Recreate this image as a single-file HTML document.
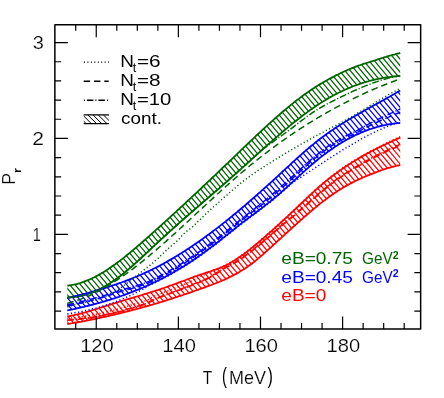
<!DOCTYPE html>
<html><head><meta charset="utf-8"><title>Polyakov loop</title>
<style>html,body{margin:0;padding:0;background:#fff;}svg{display:block;will-change:transform;}</style>
</head><body>
<svg width="444" height="398" viewBox="0 0 444 398">
<rect width="444" height="398" fill="#fff"/>
<clipPath id="cg"><path d="M67.3,285.6 L68.6,285.5 L69.9,285.3 L71.2,285.1 L72.4,284.9 L73.7,284.7 L75.0,284.4 L76.3,284.1 L77.6,283.8 L78.9,283.4 L80.2,283.0 L81.4,282.6 L82.7,282.2 L84.0,281.7 L85.3,281.2 L86.6,280.7 L87.9,280.2 L89.2,279.6 L90.4,279.1 L91.7,278.5 L93.0,277.8 L94.3,277.2 L95.6,276.5 L96.9,275.9 L98.1,275.2 L99.4,274.4 L100.7,273.7 L102.0,272.9 L103.3,272.2 L104.6,271.4 L105.9,270.6 L107.1,269.7 L108.4,268.9 L109.7,268.0 L111.0,267.1 L112.3,266.2 L113.6,265.3 L114.9,264.4 L116.1,263.5 L117.4,262.5 L118.7,261.6 L120.0,260.6 L121.3,259.6 L122.6,258.6 L123.9,257.6 L125.1,256.6 L126.4,255.5 L127.7,254.5 L129.0,253.5 L130.3,252.4 L131.6,251.3 L132.9,250.3 L134.1,249.2 L135.4,248.1 L136.7,247.0 L138.0,245.9 L139.3,244.8 L140.6,243.6 L141.8,242.5 L143.1,241.4 L144.4,240.3 L145.7,239.1 L147.0,238.0 L148.3,236.8 L149.6,235.7 L150.8,234.6 L152.1,233.4 L153.4,232.3 L154.7,231.1 L156.0,229.9 L157.3,228.8 L158.6,227.6 L159.8,226.5 L161.1,225.3 L162.4,224.1 L163.7,223.0 L165.0,221.8 L166.3,220.6 L167.6,219.5 L168.8,218.3 L170.1,217.1 L171.4,215.9 L172.7,214.8 L174.0,213.6 L175.3,212.4 L176.6,211.2 L177.8,210.0 L179.1,208.9 L180.4,207.7 L181.7,206.5 L183.0,205.3 L184.3,204.1 L185.6,202.9 L186.8,201.7 L188.1,200.5 L189.4,199.3 L190.7,198.1 L192.0,196.9 L193.3,195.7 L194.5,194.5 L195.8,193.3 L197.1,192.1 L198.4,190.9 L199.7,189.7 L201.0,188.5 L202.3,187.2 L203.5,186.0 L204.8,184.8 L206.1,183.6 L207.4,182.4 L208.7,181.2 L210.0,180.0 L211.3,178.7 L212.5,177.5 L213.8,176.3 L215.1,175.1 L216.4,173.8 L217.7,172.6 L219.0,171.4 L220.3,170.2 L221.5,168.9 L222.8,167.7 L224.1,166.5 L225.4,165.2 L226.7,164.0 L228.0,162.8 L229.3,161.5 L230.5,160.3 L231.8,159.1 L233.1,157.8 L234.4,156.6 L235.7,155.4 L237.0,154.1 L238.2,152.9 L239.5,151.7 L240.8,150.4 L242.1,149.2 L243.4,147.9 L244.7,146.7 L246.0,145.5 L247.2,144.3 L248.5,143.0 L249.8,141.8 L251.1,140.6 L252.4,139.3 L253.7,138.1 L255.0,136.9 L256.2,135.7 L257.5,134.5 L258.8,133.3 L260.1,132.1 L261.4,130.9 L262.7,129.7 L264.0,128.5 L265.2,127.3 L266.5,126.1 L267.8,124.9 L269.1,123.8 L270.4,122.6 L271.7,121.5 L273.0,120.3 L274.2,119.2 L275.5,118.0 L276.8,116.9 L278.1,115.8 L279.4,114.6 L280.7,113.5 L281.9,112.4 L283.2,111.3 L284.5,110.2 L285.8,109.2 L287.1,108.1 L288.4,107.0 L289.7,106.0 L290.9,104.9 L292.2,103.9 L293.5,102.9 L294.8,101.8 L296.1,100.8 L297.4,99.8 L298.7,98.9 L299.9,97.9 L301.2,96.9 L302.5,96.0 L303.8,95.0 L305.1,94.1 L306.4,93.2 L307.7,92.3 L308.9,91.4 L310.2,90.5 L311.5,89.6 L312.8,88.8 L314.1,88.0 L315.4,87.1 L316.7,86.3 L317.9,85.5 L319.2,84.7 L320.5,83.9 L321.8,83.2 L323.1,82.4 L324.4,81.7 L325.7,80.9 L326.9,80.2 L328.2,79.5 L329.5,78.8 L330.8,78.1 L332.1,77.4 L333.4,76.7 L334.6,76.1 L335.9,75.4 L337.2,74.8 L338.5,74.2 L339.8,73.5 L341.1,72.9 L342.4,72.3 L343.6,71.7 L344.9,71.2 L346.2,70.6 L347.5,70.0 L348.8,69.5 L350.1,68.9 L351.4,68.4 L352.6,67.9 L353.9,67.4 L355.2,66.9 L356.5,66.4 L357.8,65.9 L359.1,65.4 L360.4,65.0 L361.6,64.5 L362.9,64.1 L364.2,63.7 L365.5,63.3 L366.8,62.9 L368.1,62.5 L369.4,62.1 L370.6,61.7 L371.9,61.3 L373.2,60.9 L374.5,60.5 L375.8,60.1 L377.1,59.6 L378.3,59.2 L379.6,58.8 L380.9,58.4 L382.2,58.0 L383.5,57.6 L384.8,57.2 L386.1,56.8 L387.3,56.4 L388.6,56.0 L389.9,55.6 L391.2,55.3 L392.5,54.9 L393.8,54.6 L395.1,54.3 L396.3,53.9 L397.6,53.6 L398.9,53.3 L400.2,53.0 L400.2,76.0 L398.9,76.1 L397.6,76.2 L396.3,76.3 L395.1,76.4 L393.8,76.5 L392.5,76.7 L391.2,76.8 L389.9,77.0 L388.6,77.1 L387.3,77.3 L386.1,77.5 L384.8,77.7 L383.5,77.9 L382.2,78.1 L380.9,78.4 L379.6,78.6 L378.3,78.9 L377.1,79.1 L375.8,79.4 L374.5,79.7 L373.2,80.0 L371.9,80.3 L370.6,80.7 L369.4,81.0 L368.1,81.4 L366.8,81.7 L365.5,82.1 L364.2,82.5 L362.9,82.9 L361.6,83.3 L360.4,83.7 L359.1,84.2 L357.8,84.6 L356.5,85.1 L355.2,85.5 L353.9,86.0 L352.6,86.5 L351.4,87.0 L350.1,87.6 L348.8,88.1 L347.5,88.6 L346.2,89.2 L344.9,89.8 L343.6,90.4 L342.4,91.0 L341.1,91.6 L339.8,92.2 L338.5,92.8 L337.2,93.5 L335.9,94.1 L334.6,94.8 L333.4,95.5 L332.1,96.2 L330.8,96.9 L329.5,97.6 L328.2,98.4 L326.9,99.1 L325.7,99.9 L324.4,100.7 L323.1,101.5 L321.8,102.3 L320.5,103.1 L319.2,103.9 L317.9,104.8 L316.7,105.6 L315.4,106.5 L314.1,107.4 L312.8,108.3 L311.5,109.2 L310.2,110.1 L308.9,111.0 L307.7,111.9 L306.4,112.9 L305.1,113.8 L303.8,114.8 L302.5,115.8 L301.2,116.7 L299.9,117.7 L298.7,118.7 L297.4,119.7 L296.1,120.8 L294.8,121.8 L293.5,122.8 L292.2,123.8 L290.9,124.9 L289.7,125.9 L288.4,127.0 L287.1,128.1 L285.8,129.1 L284.5,130.2 L283.2,131.3 L281.9,132.4 L280.7,133.5 L279.4,134.6 L278.1,135.7 L276.8,136.8 L275.5,138.0 L274.2,139.1 L273.0,140.2 L271.7,141.3 L270.4,142.5 L269.1,143.6 L267.8,144.7 L266.5,145.9 L265.2,147.0 L264.0,148.2 L262.7,149.3 L261.4,150.5 L260.1,151.7 L258.8,152.8 L257.5,154.0 L256.2,155.1 L255.0,156.3 L253.7,157.5 L252.4,158.6 L251.1,159.8 L249.8,161.0 L248.5,162.1 L247.2,163.3 L246.0,164.5 L244.7,165.6 L243.4,166.8 L242.1,167.9 L240.8,169.1 L239.5,170.3 L238.2,171.4 L237.0,172.6 L235.7,173.7 L234.4,174.9 L233.1,176.0 L231.8,177.2 L230.5,178.3 L229.3,179.4 L228.0,180.6 L226.7,181.7 L225.4,182.8 L224.1,184.0 L222.8,185.1 L221.5,186.2 L220.3,187.3 L219.0,188.5 L217.7,189.6 L216.4,190.7 L215.1,191.8 L213.8,192.9 L212.5,194.0 L211.3,195.1 L210.0,196.3 L208.7,197.4 L207.4,198.5 L206.1,199.6 L204.8,200.7 L203.5,201.8 L202.3,202.9 L201.0,204.0 L199.7,205.1 L198.4,206.3 L197.1,207.4 L195.8,208.5 L194.5,209.6 L193.3,210.7 L192.0,211.8 L190.7,212.9 L189.4,214.1 L188.1,215.2 L186.8,216.3 L185.6,217.4 L184.3,218.5 L183.0,219.7 L181.7,220.8 L180.4,221.9 L179.1,223.1 L177.8,224.2 L176.6,225.4 L175.3,226.5 L174.0,227.6 L172.7,228.8 L171.4,230.0 L170.1,231.1 L168.8,232.3 L167.6,233.4 L166.3,234.6 L165.0,235.8 L163.7,237.0 L162.4,238.1 L161.1,239.3 L159.8,240.5 L158.6,241.7 L157.3,242.9 L156.0,244.1 L154.7,245.3 L153.4,246.5 L152.1,247.7 L150.8,249.0 L149.6,250.2 L148.3,251.4 L147.0,252.6 L145.7,253.8 L144.4,255.0 L143.1,256.2 L141.8,257.4 L140.6,258.6 L139.3,259.8 L138.0,260.9 L136.7,262.1 L135.4,263.2 L134.1,264.4 L132.9,265.5 L131.6,266.7 L130.3,267.8 L129.0,268.9 L127.7,270.0 L126.4,271.0 L125.1,272.1 L123.9,273.1 L122.6,274.2 L121.3,275.2 L120.0,276.2 L118.7,277.1 L117.4,278.1 L116.1,279.0 L114.9,279.9 L113.6,280.8 L112.3,281.7 L111.0,282.6 L109.7,283.4 L108.4,284.2 L107.1,285.0 L105.9,285.7 L104.6,286.5 L103.3,287.2 L102.0,287.9 L100.7,288.6 L99.4,289.2 L98.1,289.8 L96.9,290.4 L95.6,291.0 L94.3,291.6 L93.0,292.1 L91.7,292.6 L90.4,293.1 L89.2,293.5 L87.9,294.0 L86.6,294.4 L85.3,294.8 L84.0,295.1 L82.7,295.4 L81.4,295.8 L80.2,296.0 L78.9,296.3 L77.6,296.5 L76.3,296.7 L75.0,296.9 L73.7,297.1 L72.4,297.2 L71.2,297.3 L69.9,297.4 L68.6,297.4 L67.3,297.4Z"/></clipPath>
<path clip-path="url(#cg)" d="M-426.80,0 L-95.13,398 M-421.40,0 L-89.73,398 M-416.00,0 L-84.33,398 M-410.60,0 L-78.93,398 M-405.20,0 L-73.53,398 M-399.80,0 L-68.13,398 M-394.40,0 L-62.73,398 M-389.00,0 L-57.33,398 M-383.60,0 L-51.93,398 M-378.20,0 L-46.53,398 M-372.80,0 L-41.13,398 M-367.40,0 L-35.73,398 M-362.00,0 L-30.33,398 M-356.60,0 L-24.93,398 M-351.20,0 L-19.53,398 M-345.80,0 L-14.13,398 M-340.40,0 L-8.73,398 M-335.00,0 L-3.33,398 M-329.60,0 L2.07,398 M-324.20,0 L7.47,398 M-318.80,0 L12.87,398 M-313.40,0 L18.27,398 M-308.00,0 L23.67,398 M-302.60,0 L29.07,398 M-297.20,0 L34.47,398 M-291.80,0 L39.87,398 M-286.40,0 L45.27,398 M-281.00,0 L50.67,398 M-275.60,0 L56.07,398 M-270.20,0 L61.47,398 M-264.80,0 L66.87,398 M-259.40,0 L72.27,398 M-254.00,0 L77.67,398 M-248.60,0 L83.07,398 M-243.20,0 L88.47,398 M-237.80,0 L93.87,398 M-232.40,0 L99.27,398 M-227.00,0 L104.67,398 M-221.60,0 L110.07,398 M-216.20,0 L115.47,398 M-210.80,0 L120.87,398 M-205.40,0 L126.27,398 M-200.00,0 L131.67,398 M-194.60,0 L137.07,398 M-189.20,0 L142.47,398 M-183.80,0 L147.87,398 M-178.40,0 L153.27,398 M-173.00,0 L158.67,398 M-167.60,0 L164.07,398 M-162.20,0 L169.47,398 M-156.80,0 L174.87,398 M-151.40,0 L180.27,398 M-146.00,0 L185.67,398 M-140.60,0 L191.07,398 M-135.20,0 L196.47,398 M-129.80,0 L201.87,398 M-124.40,0 L207.27,398 M-119.00,0 L212.67,398 M-113.60,0 L218.07,398 M-108.20,0 L223.47,398 M-102.80,0 L228.87,398 M-97.40,0 L234.27,398 M-92.00,0 L239.67,398 M-86.60,0 L245.07,398 M-81.20,0 L250.47,398 M-75.80,0 L255.87,398 M-70.40,0 L261.27,398 M-65.00,0 L266.67,398 M-59.60,0 L272.07,398 M-54.20,0 L277.47,398 M-48.80,0 L282.87,398 M-43.40,0 L288.27,398 M-38.00,0 L293.67,398 M-32.60,0 L299.07,398 M-27.20,0 L304.47,398 M-21.80,0 L309.87,398 M-16.40,0 L315.27,398 M-11.00,0 L320.67,398 M-5.60,0 L326.07,398 M-0.20,0 L331.47,398 M5.20,0 L336.87,398 M10.60,0 L342.27,398 M16.00,0 L347.67,398 M21.40,0 L353.07,398 M26.80,0 L358.47,398 M32.20,0 L363.87,398 M37.60,0 L369.27,398 M43.00,0 L374.67,398 M48.40,0 L380.07,398 M53.80,0 L385.47,398 M59.20,0 L390.87,398 M64.60,0 L396.27,398 M70.00,0 L401.67,398 M75.40,0 L407.07,398 M80.80,0 L412.47,398 M86.20,0 L417.87,398 M91.60,0 L423.27,398 M97.00,0 L428.67,398 M102.40,0 L434.07,398 M107.80,0 L439.47,398 M113.20,0 L444.87,398 M118.60,0 L450.27,398 M124.00,0 L455.67,398 M129.40,0 L461.07,398 M134.80,0 L466.47,398 M140.20,0 L471.87,398 M145.60,0 L477.27,398 M151.00,0 L482.67,398 M156.40,0 L488.07,398 M161.80,0 L493.47,398 M167.20,0 L498.87,398 M172.60,0 L504.27,398 M178.00,0 L509.67,398 M183.40,0 L515.07,398 M188.80,0 L520.47,398 M194.20,0 L525.87,398 M199.60,0 L531.27,398 M205.00,0 L536.67,398 M210.40,0 L542.07,398 M215.80,0 L547.47,398 M221.20,0 L552.87,398 M226.60,0 L558.27,398 M232.00,0 L563.67,398 M237.40,0 L569.07,398 M242.80,0 L574.47,398 M248.20,0 L579.87,398 M253.60,0 L585.27,398 M259.00,0 L590.67,398 M264.40,0 L596.07,398 M269.80,0 L601.47,398 M275.20,0 L606.87,398 M280.60,0 L612.27,398 M286.00,0 L617.67,398 M291.40,0 L623.07,398 M296.80,0 L628.47,398 M302.20,0 L633.87,398 M307.60,0 L639.27,398 M313.00,0 L644.67,398 M318.40,0 L650.07,398 M323.80,0 L655.47,398 M329.20,0 L660.87,398 M334.60,0 L666.27,398 M340.00,0 L671.67,398 M345.40,0 L677.07,398 M350.80,0 L682.47,398 M356.20,0 L687.87,398 M361.60,0 L693.27,398 M367.00,0 L698.67,398 M372.40,0 L704.07,398 M377.80,0 L709.47,398 M383.20,0 L714.87,398 M388.60,0 L720.27,398 M394.00,0 L725.67,398 M399.40,0 L731.07,398 M404.80,0 L736.47,398 M410.20,0 L741.87,398 M415.60,0 L747.27,398 M421.00,0 L752.67,398 M426.40,0 L758.07,398 M431.80,0 L763.47,398 M437.20,0 L768.87,398 M442.60,0 L774.27,398 M448.00,0 L779.67,398" stroke="#006400" stroke-width="1.25" fill="none"/>
<path d="M67.3,285.6 L68.6,285.5 L69.9,285.3 L71.2,285.1 L72.4,284.9 L73.7,284.7 L75.0,284.4 L76.3,284.1 L77.6,283.8 L78.9,283.4 L80.2,283.0 L81.4,282.6 L82.7,282.2 L84.0,281.7 L85.3,281.2 L86.6,280.7 L87.9,280.2 L89.2,279.6 L90.4,279.1 L91.7,278.5 L93.0,277.8 L94.3,277.2 L95.6,276.5 L96.9,275.9 L98.1,275.2 L99.4,274.4 L100.7,273.7 L102.0,272.9 L103.3,272.2 L104.6,271.4 L105.9,270.6 L107.1,269.7 L108.4,268.9 L109.7,268.0 L111.0,267.1 L112.3,266.2 L113.6,265.3 L114.9,264.4 L116.1,263.5 L117.4,262.5 L118.7,261.6 L120.0,260.6 L121.3,259.6 L122.6,258.6 L123.9,257.6 L125.1,256.6 L126.4,255.5 L127.7,254.5 L129.0,253.5 L130.3,252.4 L131.6,251.3 L132.9,250.3 L134.1,249.2 L135.4,248.1 L136.7,247.0 L138.0,245.9 L139.3,244.8 L140.6,243.6 L141.8,242.5 L143.1,241.4 L144.4,240.3 L145.7,239.1 L147.0,238.0 L148.3,236.8 L149.6,235.7 L150.8,234.6 L152.1,233.4 L153.4,232.3 L154.7,231.1 L156.0,229.9 L157.3,228.8 L158.6,227.6 L159.8,226.5 L161.1,225.3 L162.4,224.1 L163.7,223.0 L165.0,221.8 L166.3,220.6 L167.6,219.5 L168.8,218.3 L170.1,217.1 L171.4,215.9 L172.7,214.8 L174.0,213.6 L175.3,212.4 L176.6,211.2 L177.8,210.0 L179.1,208.9 L180.4,207.7 L181.7,206.5 L183.0,205.3 L184.3,204.1 L185.6,202.9 L186.8,201.7 L188.1,200.5 L189.4,199.3 L190.7,198.1 L192.0,196.9 L193.3,195.7 L194.5,194.5 L195.8,193.3 L197.1,192.1 L198.4,190.9 L199.7,189.7 L201.0,188.5 L202.3,187.2 L203.5,186.0 L204.8,184.8 L206.1,183.6 L207.4,182.4 L208.7,181.2 L210.0,180.0 L211.3,178.7 L212.5,177.5 L213.8,176.3 L215.1,175.1 L216.4,173.8 L217.7,172.6 L219.0,171.4 L220.3,170.2 L221.5,168.9 L222.8,167.7 L224.1,166.5 L225.4,165.2 L226.7,164.0 L228.0,162.8 L229.3,161.5 L230.5,160.3 L231.8,159.1 L233.1,157.8 L234.4,156.6 L235.7,155.4 L237.0,154.1 L238.2,152.9 L239.5,151.7 L240.8,150.4 L242.1,149.2 L243.4,147.9 L244.7,146.7 L246.0,145.5 L247.2,144.3 L248.5,143.0 L249.8,141.8 L251.1,140.6 L252.4,139.3 L253.7,138.1 L255.0,136.9 L256.2,135.7 L257.5,134.5 L258.8,133.3 L260.1,132.1 L261.4,130.9 L262.7,129.7 L264.0,128.5 L265.2,127.3 L266.5,126.1 L267.8,124.9 L269.1,123.8 L270.4,122.6 L271.7,121.5 L273.0,120.3 L274.2,119.2 L275.5,118.0 L276.8,116.9 L278.1,115.8 L279.4,114.6 L280.7,113.5 L281.9,112.4 L283.2,111.3 L284.5,110.2 L285.8,109.2 L287.1,108.1 L288.4,107.0 L289.7,106.0 L290.9,104.9 L292.2,103.9 L293.5,102.9 L294.8,101.8 L296.1,100.8 L297.4,99.8 L298.7,98.9 L299.9,97.9 L301.2,96.9 L302.5,96.0 L303.8,95.0 L305.1,94.1 L306.4,93.2 L307.7,92.3 L308.9,91.4 L310.2,90.5 L311.5,89.6 L312.8,88.8 L314.1,88.0 L315.4,87.1 L316.7,86.3 L317.9,85.5 L319.2,84.7 L320.5,83.9 L321.8,83.2 L323.1,82.4 L324.4,81.7 L325.7,80.9 L326.9,80.2 L328.2,79.5 L329.5,78.8 L330.8,78.1 L332.1,77.4 L333.4,76.7 L334.6,76.1 L335.9,75.4 L337.2,74.8 L338.5,74.2 L339.8,73.5 L341.1,72.9 L342.4,72.3 L343.6,71.7 L344.9,71.2 L346.2,70.6 L347.5,70.0 L348.8,69.5 L350.1,68.9 L351.4,68.4 L352.6,67.9 L353.9,67.4 L355.2,66.9 L356.5,66.4 L357.8,65.9 L359.1,65.4 L360.4,65.0 L361.6,64.5 L362.9,64.1 L364.2,63.7 L365.5,63.3 L366.8,62.9 L368.1,62.5 L369.4,62.1 L370.6,61.7 L371.9,61.3 L373.2,60.9 L374.5,60.5 L375.8,60.1 L377.1,59.6 L378.3,59.2 L379.6,58.8 L380.9,58.4 L382.2,58.0 L383.5,57.6 L384.8,57.2 L386.1,56.8 L387.3,56.4 L388.6,56.0 L389.9,55.6 L391.2,55.3 L392.5,54.9 L393.8,54.6 L395.1,54.3 L396.3,53.9 L397.6,53.6 L398.9,53.3 L400.2,53.0" fill="none" stroke="#006400" stroke-width="1.8"/>
<path d="M67.3,297.4 L68.6,297.4 L69.9,297.4 L71.2,297.3 L72.4,297.2 L73.7,297.1 L75.0,296.9 L76.3,296.7 L77.6,296.5 L78.9,296.3 L80.2,296.0 L81.4,295.8 L82.7,295.4 L84.0,295.1 L85.3,294.8 L86.6,294.4 L87.9,294.0 L89.2,293.5 L90.4,293.1 L91.7,292.6 L93.0,292.1 L94.3,291.6 L95.6,291.0 L96.9,290.4 L98.1,289.8 L99.4,289.2 L100.7,288.6 L102.0,287.9 L103.3,287.2 L104.6,286.5 L105.9,285.7 L107.1,285.0 L108.4,284.2 L109.7,283.4 L111.0,282.6 L112.3,281.7 L113.6,280.8 L114.9,279.9 L116.1,279.0 L117.4,278.1 L118.7,277.1 L120.0,276.2 L121.3,275.2 L122.6,274.2 L123.9,273.1 L125.1,272.1 L126.4,271.0 L127.7,270.0 L129.0,268.9 L130.3,267.8 L131.6,266.7 L132.9,265.5 L134.1,264.4 L135.4,263.2 L136.7,262.1 L138.0,260.9 L139.3,259.8 L140.6,258.6 L141.8,257.4 L143.1,256.2 L144.4,255.0 L145.7,253.8 L147.0,252.6 L148.3,251.4 L149.6,250.2 L150.8,249.0 L152.1,247.7 L153.4,246.5 L154.7,245.3 L156.0,244.1 L157.3,242.9 L158.6,241.7 L159.8,240.5 L161.1,239.3 L162.4,238.1 L163.7,237.0 L165.0,235.8 L166.3,234.6 L167.6,233.4 L168.8,232.3 L170.1,231.1 L171.4,230.0 L172.7,228.8 L174.0,227.6 L175.3,226.5 L176.6,225.4 L177.8,224.2 L179.1,223.1 L180.4,221.9 L181.7,220.8 L183.0,219.7 L184.3,218.5 L185.6,217.4 L186.8,216.3 L188.1,215.2 L189.4,214.1 L190.7,212.9 L192.0,211.8 L193.3,210.7 L194.5,209.6 L195.8,208.5 L197.1,207.4 L198.4,206.3 L199.7,205.1 L201.0,204.0 L202.3,202.9 L203.5,201.8 L204.8,200.7 L206.1,199.6 L207.4,198.5 L208.7,197.4 L210.0,196.3 L211.3,195.1 L212.5,194.0 L213.8,192.9 L215.1,191.8 L216.4,190.7 L217.7,189.6 L219.0,188.5 L220.3,187.3 L221.5,186.2 L222.8,185.1 L224.1,184.0 L225.4,182.8 L226.7,181.7 L228.0,180.6 L229.3,179.4 L230.5,178.3 L231.8,177.2 L233.1,176.0 L234.4,174.9 L235.7,173.7 L237.0,172.6 L238.2,171.4 L239.5,170.3 L240.8,169.1 L242.1,167.9 L243.4,166.8 L244.7,165.6 L246.0,164.5 L247.2,163.3 L248.5,162.1 L249.8,161.0 L251.1,159.8 L252.4,158.6 L253.7,157.5 L255.0,156.3 L256.2,155.1 L257.5,154.0 L258.8,152.8 L260.1,151.7 L261.4,150.5 L262.7,149.3 L264.0,148.2 L265.2,147.0 L266.5,145.9 L267.8,144.7 L269.1,143.6 L270.4,142.5 L271.7,141.3 L273.0,140.2 L274.2,139.1 L275.5,138.0 L276.8,136.8 L278.1,135.7 L279.4,134.6 L280.7,133.5 L281.9,132.4 L283.2,131.3 L284.5,130.2 L285.8,129.1 L287.1,128.1 L288.4,127.0 L289.7,125.9 L290.9,124.9 L292.2,123.8 L293.5,122.8 L294.8,121.8 L296.1,120.8 L297.4,119.7 L298.7,118.7 L299.9,117.7 L301.2,116.7 L302.5,115.8 L303.8,114.8 L305.1,113.8 L306.4,112.9 L307.7,111.9 L308.9,111.0 L310.2,110.1 L311.5,109.2 L312.8,108.3 L314.1,107.4 L315.4,106.5 L316.7,105.6 L317.9,104.8 L319.2,103.9 L320.5,103.1 L321.8,102.3 L323.1,101.5 L324.4,100.7 L325.7,99.9 L326.9,99.1 L328.2,98.4 L329.5,97.6 L330.8,96.9 L332.1,96.2 L333.4,95.5 L334.6,94.8 L335.9,94.1 L337.2,93.5 L338.5,92.8 L339.8,92.2 L341.1,91.6 L342.4,91.0 L343.6,90.4 L344.9,89.8 L346.2,89.2 L347.5,88.6 L348.8,88.1 L350.1,87.6 L351.4,87.0 L352.6,86.5 L353.9,86.0 L355.2,85.5 L356.5,85.1 L357.8,84.6 L359.1,84.2 L360.4,83.7 L361.6,83.3 L362.9,82.9 L364.2,82.5 L365.5,82.1 L366.8,81.7 L368.1,81.4 L369.4,81.0 L370.6,80.7 L371.9,80.3 L373.2,80.0 L374.5,79.7 L375.8,79.4 L377.1,79.1 L378.3,78.9 L379.6,78.6 L380.9,78.4 L382.2,78.1 L383.5,77.9 L384.8,77.7 L386.1,77.5 L387.3,77.3 L388.6,77.1 L389.9,77.0 L391.2,76.8 L392.5,76.7 L393.8,76.5 L395.1,76.4 L396.3,76.3 L397.6,76.2 L398.9,76.1 L400.2,76.0" fill="none" stroke="#006400" stroke-width="1.8"/>
<clipPath id="cb"><path d="M67.3,298.1 L68.6,297.8 L69.9,297.4 L71.2,297.1 L72.4,296.8 L73.7,296.5 L75.0,296.2 L76.3,295.9 L77.6,295.6 L78.9,295.2 L80.2,294.9 L81.4,294.6 L82.7,294.2 L84.0,293.9 L85.3,293.6 L86.6,293.2 L87.9,292.9 L89.2,292.5 L90.4,292.2 L91.7,291.8 L93.0,291.5 L94.3,291.1 L95.6,290.7 L96.9,290.4 L98.1,290.0 L99.4,289.6 L100.7,289.2 L102.0,288.9 L103.3,288.5 L104.6,288.1 L105.9,287.7 L107.1,287.3 L108.4,286.9 L109.7,286.4 L111.0,286.0 L112.3,285.6 L113.6,285.2 L114.9,284.7 L116.1,284.3 L117.4,283.9 L118.7,283.4 L120.0,282.9 L121.3,282.5 L122.6,282.0 L123.9,281.5 L125.1,281.1 L126.4,280.6 L127.7,280.1 L129.0,279.6 L130.3,279.1 L131.6,278.6 L132.9,278.1 L134.1,277.5 L135.4,277.0 L136.7,276.5 L138.0,275.9 L139.3,275.4 L140.6,274.8 L141.8,274.3 L143.1,273.7 L144.4,273.1 L145.7,272.5 L147.0,271.9 L148.3,271.3 L149.6,270.7 L150.8,270.1 L152.1,269.5 L153.4,268.8 L154.7,268.2 L156.0,267.5 L157.3,266.9 L158.6,266.2 L159.8,265.5 L161.1,264.9 L162.4,264.2 L163.7,263.5 L165.0,262.8 L166.3,262.1 L167.6,261.3 L168.8,260.6 L170.1,259.9 L171.4,259.1 L172.7,258.4 L174.0,257.6 L175.3,256.8 L176.6,256.1 L177.8,255.3 L179.1,254.5 L180.4,253.7 L181.7,252.9 L183.0,252.1 L184.3,251.3 L185.6,250.4 L186.8,249.6 L188.1,248.8 L189.4,247.9 L190.7,247.1 L192.0,246.2 L193.3,245.3 L194.5,244.5 L195.8,243.6 L197.1,242.7 L198.4,241.8 L199.7,240.9 L201.0,240.0 L202.3,239.1 L203.5,238.1 L204.8,237.2 L206.1,236.3 L207.4,235.3 L208.7,234.4 L210.0,233.4 L211.3,232.5 L212.5,231.5 L213.8,230.6 L215.1,229.6 L216.4,228.6 L217.7,227.6 L219.0,226.6 L220.3,225.6 L221.5,224.6 L222.8,223.6 L224.1,222.6 L225.4,221.6 L226.7,220.5 L228.0,219.5 L229.3,218.5 L230.5,217.4 L231.8,216.4 L233.1,215.3 L234.4,214.3 L235.7,213.2 L237.0,212.1 L238.2,211.0 L239.5,210.0 L240.8,208.9 L242.1,207.8 L243.4,206.7 L244.7,205.6 L246.0,204.5 L247.2,203.4 L248.5,202.3 L249.8,201.2 L251.1,200.0 L252.4,198.9 L253.7,197.8 L255.0,196.7 L256.2,195.5 L257.5,194.4 L258.8,193.2 L260.1,192.1 L261.4,190.9 L262.7,189.8 L264.0,188.6 L265.2,187.5 L266.5,186.3 L267.8,185.2 L269.1,184.0 L270.4,182.8 L271.7,181.7 L273.0,180.5 L274.2,179.3 L275.5,178.1 L276.8,177.0 L278.1,175.8 L279.4,174.6 L280.7,173.4 L281.9,172.2 L283.2,171.0 L284.5,169.8 L285.8,168.7 L287.1,167.5 L288.4,166.3 L289.7,165.1 L290.9,163.9 L292.2,162.7 L293.5,161.5 L294.8,160.4 L296.1,159.2 L297.4,158.0 L298.7,156.9 L299.9,155.7 L301.2,154.6 L302.5,153.4 L303.8,152.3 L305.1,151.2 L306.4,150.0 L307.7,148.9 L308.9,147.8 L310.2,146.8 L311.5,145.7 L312.8,144.6 L314.1,143.6 L315.4,142.5 L316.7,141.5 L317.9,140.5 L319.2,139.5 L320.5,138.5 L321.8,137.6 L323.1,136.6 L324.4,135.7 L325.7,134.7 L326.9,133.8 L328.2,132.9 L329.5,132.0 L330.8,131.1 L332.1,130.2 L333.4,129.4 L334.6,128.5 L335.9,127.6 L337.2,126.8 L338.5,126.0 L339.8,125.1 L341.1,124.3 L342.4,123.5 L343.6,122.7 L344.9,121.9 L346.2,121.1 L347.5,120.4 L348.8,119.6 L350.1,118.8 L351.4,118.1 L352.6,117.3 L353.9,116.6 L355.2,115.8 L356.5,115.1 L357.8,114.3 L359.1,113.6 L360.4,112.9 L361.6,112.2 L362.9,111.4 L364.2,110.7 L365.5,110.0 L366.8,109.3 L368.1,108.6 L369.4,107.9 L370.6,107.1 L371.9,106.4 L373.2,105.7 L374.5,105.0 L375.8,104.3 L377.1,103.6 L378.3,102.9 L379.6,102.2 L380.9,101.5 L382.2,100.8 L383.5,100.1 L384.8,99.4 L386.1,98.6 L387.3,97.9 L388.6,97.2 L389.9,96.5 L391.2,95.7 L392.5,95.0 L393.8,94.3 L395.1,93.5 L396.3,92.8 L397.6,92.0 L398.9,91.3 L400.2,90.5 L400.2,123.0 L398.9,123.1 L397.6,123.2 L396.3,123.3 L395.1,123.4 L393.8,123.6 L392.5,123.8 L391.2,124.0 L389.9,124.2 L388.6,124.4 L387.3,124.6 L386.1,124.9 L384.8,125.1 L383.5,125.4 L382.2,125.7 L380.9,126.0 L379.6,126.3 L378.3,126.7 L377.1,127.0 L375.8,127.4 L374.5,127.8 L373.2,128.2 L371.9,128.6 L370.6,129.0 L369.4,129.5 L368.1,129.9 L366.8,130.4 L365.5,130.9 L364.2,131.4 L362.9,131.9 L361.6,132.4 L360.4,133.0 L359.1,133.6 L357.8,134.1 L356.5,134.7 L355.2,135.3 L353.9,136.0 L352.6,136.6 L351.4,137.3 L350.1,137.9 L348.8,138.6 L347.5,139.3 L346.2,140.0 L344.9,140.8 L343.6,141.5 L342.4,142.3 L341.1,143.0 L339.8,143.8 L338.5,144.6 L337.2,145.5 L335.9,146.3 L334.6,147.1 L333.4,148.0 L332.1,148.9 L330.8,149.8 L329.5,150.7 L328.2,151.6 L326.9,152.5 L325.7,153.5 L324.4,154.4 L323.1,155.4 L321.8,156.4 L320.5,157.4 L319.2,158.4 L317.9,159.5 L316.7,160.5 L315.4,161.6 L314.1,162.7 L312.8,163.8 L311.5,164.9 L310.2,166.0 L308.9,167.1 L307.7,168.3 L306.4,169.4 L305.1,170.6 L303.8,171.7 L302.5,172.9 L301.2,174.1 L299.9,175.2 L298.7,176.4 L297.4,177.6 L296.1,178.8 L294.8,180.0 L293.5,181.1 L292.2,182.3 L290.9,183.5 L289.7,184.7 L288.4,185.9 L287.1,187.0 L285.8,188.2 L284.5,189.3 L283.2,190.5 L281.9,191.6 L280.7,192.7 L279.4,193.8 L278.1,195.0 L276.8,196.0 L275.5,197.1 L274.2,198.2 L273.0,199.3 L271.7,200.3 L270.4,201.4 L269.1,202.4 L267.8,203.4 L266.5,204.4 L265.2,205.4 L264.0,206.4 L262.7,207.4 L261.4,208.4 L260.1,209.3 L258.8,210.3 L257.5,211.3 L256.2,212.2 L255.0,213.2 L253.7,214.2 L252.4,215.1 L251.1,216.1 L249.8,217.0 L248.5,218.0 L247.2,219.0 L246.0,220.0 L244.7,220.9 L243.4,221.9 L242.1,222.9 L240.8,223.9 L239.5,224.9 L238.2,225.9 L237.0,226.9 L235.7,227.9 L234.4,229.0 L233.1,230.0 L231.8,231.0 L230.5,232.0 L229.3,233.0 L228.0,234.1 L226.7,235.1 L225.4,236.1 L224.1,237.1 L222.8,238.1 L221.5,239.2 L220.3,240.2 L219.0,241.2 L217.7,242.2 L216.4,243.2 L215.1,244.2 L213.8,245.2 L212.5,246.2 L211.3,247.1 L210.0,248.1 L208.7,249.1 L207.4,250.0 L206.1,251.0 L204.8,251.9 L203.5,252.9 L202.3,253.8 L201.0,254.7 L199.7,255.6 L198.4,256.5 L197.1,257.4 L195.8,258.3 L194.5,259.2 L193.3,260.1 L192.0,260.9 L190.7,261.8 L189.4,262.6 L188.1,263.4 L186.8,264.3 L185.6,265.1 L184.3,265.9 L183.0,266.7 L181.7,267.5 L180.4,268.3 L179.1,269.0 L177.8,269.8 L176.6,270.6 L175.3,271.3 L174.0,272.0 L172.7,272.8 L171.4,273.5 L170.1,274.2 L168.8,274.9 L167.6,275.6 L166.3,276.3 L165.0,277.0 L163.7,277.7 L162.4,278.4 L161.1,279.0 L159.8,279.7 L158.6,280.3 L157.3,281.0 L156.0,281.6 L154.7,282.2 L153.4,282.8 L152.1,283.4 L150.8,284.0 L149.6,284.6 L148.3,285.2 L147.0,285.8 L145.7,286.4 L144.4,286.9 L143.1,287.5 L141.8,288.0 L140.6,288.6 L139.3,289.1 L138.0,289.7 L136.7,290.2 L135.4,290.7 L134.1,291.2 L132.9,291.7 L131.6,292.2 L130.3,292.7 L129.0,293.2 L127.7,293.7 L126.4,294.1 L125.1,294.6 L123.9,295.1 L122.6,295.5 L121.3,296.0 L120.0,296.4 L118.7,296.9 L117.4,297.3 L116.1,297.7 L114.9,298.1 L113.6,298.6 L112.3,299.0 L111.0,299.4 L109.7,299.8 L108.4,300.2 L107.1,300.6 L105.9,300.9 L104.6,301.3 L103.3,301.7 L102.0,302.1 L100.7,302.4 L99.4,302.8 L98.1,303.1 L96.9,303.5 L95.6,303.8 L94.3,304.2 L93.0,304.5 L91.7,304.8 L90.4,305.2 L89.2,305.5 L87.9,305.8 L86.6,306.1 L85.3,306.4 L84.0,306.8 L82.7,307.1 L81.4,307.4 L80.2,307.7 L78.9,307.9 L77.6,308.2 L76.3,308.5 L75.0,308.8 L73.7,309.1 L72.4,309.3 L71.2,309.6 L69.9,309.9 L68.6,310.2 L67.3,310.4Z"/></clipPath>
<path clip-path="url(#cb)" d="M-429.20,0 L-97.53,398 M-423.80,0 L-92.13,398 M-418.40,0 L-86.73,398 M-413.00,0 L-81.33,398 M-407.60,0 L-75.93,398 M-402.20,0 L-70.53,398 M-396.80,0 L-65.13,398 M-391.40,0 L-59.73,398 M-386.00,0 L-54.33,398 M-380.60,0 L-48.93,398 M-375.20,0 L-43.53,398 M-369.80,0 L-38.13,398 M-364.40,0 L-32.73,398 M-359.00,0 L-27.33,398 M-353.60,0 L-21.93,398 M-348.20,0 L-16.53,398 M-342.80,0 L-11.13,398 M-337.40,0 L-5.73,398 M-332.00,0 L-0.33,398 M-326.60,0 L5.07,398 M-321.20,0 L10.47,398 M-315.80,0 L15.87,398 M-310.40,0 L21.27,398 M-305.00,0 L26.67,398 M-299.60,0 L32.07,398 M-294.20,0 L37.47,398 M-288.80,0 L42.87,398 M-283.40,0 L48.27,398 M-278.00,0 L53.67,398 M-272.60,0 L59.07,398 M-267.20,0 L64.47,398 M-261.80,0 L69.87,398 M-256.40,0 L75.27,398 M-251.00,0 L80.67,398 M-245.60,0 L86.07,398 M-240.20,0 L91.47,398 M-234.80,0 L96.87,398 M-229.40,0 L102.27,398 M-224.00,0 L107.67,398 M-218.60,0 L113.07,398 M-213.20,0 L118.47,398 M-207.80,0 L123.87,398 M-202.40,0 L129.27,398 M-197.00,0 L134.67,398 M-191.60,0 L140.07,398 M-186.20,0 L145.47,398 M-180.80,0 L150.87,398 M-175.40,0 L156.27,398 M-170.00,0 L161.67,398 M-164.60,0 L167.07,398 M-159.20,0 L172.47,398 M-153.80,0 L177.87,398 M-148.40,0 L183.27,398 M-143.00,0 L188.67,398 M-137.60,0 L194.07,398 M-132.20,0 L199.47,398 M-126.80,0 L204.87,398 M-121.40,0 L210.27,398 M-116.00,0 L215.67,398 M-110.60,0 L221.07,398 M-105.20,0 L226.47,398 M-99.80,0 L231.87,398 M-94.40,0 L237.27,398 M-89.00,0 L242.67,398 M-83.60,0 L248.07,398 M-78.20,0 L253.47,398 M-72.80,0 L258.87,398 M-67.40,0 L264.27,398 M-62.00,0 L269.67,398 M-56.60,0 L275.07,398 M-51.20,0 L280.47,398 M-45.80,0 L285.87,398 M-40.40,0 L291.27,398 M-35.00,0 L296.67,398 M-29.60,0 L302.07,398 M-24.20,0 L307.47,398 M-18.80,0 L312.87,398 M-13.40,0 L318.27,398 M-8.00,0 L323.67,398 M-2.60,0 L329.07,398 M2.80,0 L334.47,398 M8.20,0 L339.87,398 M13.60,0 L345.27,398 M19.00,0 L350.67,398 M24.40,0 L356.07,398 M29.80,0 L361.47,398 M35.20,0 L366.87,398 M40.60,0 L372.27,398 M46.00,0 L377.67,398 M51.40,0 L383.07,398 M56.80,0 L388.47,398 M62.20,0 L393.87,398 M67.60,0 L399.27,398 M73.00,0 L404.67,398 M78.40,0 L410.07,398 M83.80,0 L415.47,398 M89.20,0 L420.87,398 M94.60,0 L426.27,398 M100.00,0 L431.67,398 M105.40,0 L437.07,398 M110.80,0 L442.47,398 M116.20,0 L447.87,398 M121.60,0 L453.27,398 M127.00,0 L458.67,398 M132.40,0 L464.07,398 M137.80,0 L469.47,398 M143.20,0 L474.87,398 M148.60,0 L480.27,398 M154.00,0 L485.67,398 M159.40,0 L491.07,398 M164.80,0 L496.47,398 M170.20,0 L501.87,398 M175.60,0 L507.27,398 M181.00,0 L512.67,398 M186.40,0 L518.07,398 M191.80,0 L523.47,398 M197.20,0 L528.87,398 M202.60,0 L534.27,398 M208.00,0 L539.67,398 M213.40,0 L545.07,398 M218.80,0 L550.47,398 M224.20,0 L555.87,398 M229.60,0 L561.27,398 M235.00,0 L566.67,398 M240.40,0 L572.07,398 M245.80,0 L577.47,398 M251.20,0 L582.87,398 M256.60,0 L588.27,398 M262.00,0 L593.67,398 M267.40,0 L599.07,398 M272.80,0 L604.47,398 M278.20,0 L609.87,398 M283.60,0 L615.27,398 M289.00,0 L620.67,398 M294.40,0 L626.07,398 M299.80,0 L631.47,398 M305.20,0 L636.87,398 M310.60,0 L642.27,398 M316.00,0 L647.67,398 M321.40,0 L653.07,398 M326.80,0 L658.47,398 M332.20,0 L663.87,398 M337.60,0 L669.27,398 M343.00,0 L674.67,398 M348.40,0 L680.07,398 M353.80,0 L685.47,398 M359.20,0 L690.87,398 M364.60,0 L696.27,398 M370.00,0 L701.67,398 M375.40,0 L707.07,398 M380.80,0 L712.47,398 M386.20,0 L717.87,398 M391.60,0 L723.27,398 M397.00,0 L728.67,398 M402.40,0 L734.07,398 M407.80,0 L739.47,398 M413.20,0 L744.87,398 M418.60,0 L750.27,398 M424.00,0 L755.67,398 M429.40,0 L761.07,398 M434.80,0 L766.47,398 M440.20,0 L771.87,398 M445.60,0 L777.27,398" stroke="#0000ff" stroke-width="1.25" fill="none"/>
<path d="M67.3,298.1 L68.6,297.8 L69.9,297.4 L71.2,297.1 L72.4,296.8 L73.7,296.5 L75.0,296.2 L76.3,295.9 L77.6,295.6 L78.9,295.2 L80.2,294.9 L81.4,294.6 L82.7,294.2 L84.0,293.9 L85.3,293.6 L86.6,293.2 L87.9,292.9 L89.2,292.5 L90.4,292.2 L91.7,291.8 L93.0,291.5 L94.3,291.1 L95.6,290.7 L96.9,290.4 L98.1,290.0 L99.4,289.6 L100.7,289.2 L102.0,288.9 L103.3,288.5 L104.6,288.1 L105.9,287.7 L107.1,287.3 L108.4,286.9 L109.7,286.4 L111.0,286.0 L112.3,285.6 L113.6,285.2 L114.9,284.7 L116.1,284.3 L117.4,283.9 L118.7,283.4 L120.0,282.9 L121.3,282.5 L122.6,282.0 L123.9,281.5 L125.1,281.1 L126.4,280.6 L127.7,280.1 L129.0,279.6 L130.3,279.1 L131.6,278.6 L132.9,278.1 L134.1,277.5 L135.4,277.0 L136.7,276.5 L138.0,275.9 L139.3,275.4 L140.6,274.8 L141.8,274.3 L143.1,273.7 L144.4,273.1 L145.7,272.5 L147.0,271.9 L148.3,271.3 L149.6,270.7 L150.8,270.1 L152.1,269.5 L153.4,268.8 L154.7,268.2 L156.0,267.5 L157.3,266.9 L158.6,266.2 L159.8,265.5 L161.1,264.9 L162.4,264.2 L163.7,263.5 L165.0,262.8 L166.3,262.1 L167.6,261.3 L168.8,260.6 L170.1,259.9 L171.4,259.1 L172.7,258.4 L174.0,257.6 L175.3,256.8 L176.6,256.1 L177.8,255.3 L179.1,254.5 L180.4,253.7 L181.7,252.9 L183.0,252.1 L184.3,251.3 L185.6,250.4 L186.8,249.6 L188.1,248.8 L189.4,247.9 L190.7,247.1 L192.0,246.2 L193.3,245.3 L194.5,244.5 L195.8,243.6 L197.1,242.7 L198.4,241.8 L199.7,240.9 L201.0,240.0 L202.3,239.1 L203.5,238.1 L204.8,237.2 L206.1,236.3 L207.4,235.3 L208.7,234.4 L210.0,233.4 L211.3,232.5 L212.5,231.5 L213.8,230.6 L215.1,229.6 L216.4,228.6 L217.7,227.6 L219.0,226.6 L220.3,225.6 L221.5,224.6 L222.8,223.6 L224.1,222.6 L225.4,221.6 L226.7,220.5 L228.0,219.5 L229.3,218.5 L230.5,217.4 L231.8,216.4 L233.1,215.3 L234.4,214.3 L235.7,213.2 L237.0,212.1 L238.2,211.0 L239.5,210.0 L240.8,208.9 L242.1,207.8 L243.4,206.7 L244.7,205.6 L246.0,204.5 L247.2,203.4 L248.5,202.3 L249.8,201.2 L251.1,200.0 L252.4,198.9 L253.7,197.8 L255.0,196.7 L256.2,195.5 L257.5,194.4 L258.8,193.2 L260.1,192.1 L261.4,190.9 L262.7,189.8 L264.0,188.6 L265.2,187.5 L266.5,186.3 L267.8,185.2 L269.1,184.0 L270.4,182.8 L271.7,181.7 L273.0,180.5 L274.2,179.3 L275.5,178.1 L276.8,177.0 L278.1,175.8 L279.4,174.6 L280.7,173.4 L281.9,172.2 L283.2,171.0 L284.5,169.8 L285.8,168.7 L287.1,167.5 L288.4,166.3 L289.7,165.1 L290.9,163.9 L292.2,162.7 L293.5,161.5 L294.8,160.4 L296.1,159.2 L297.4,158.0 L298.7,156.9 L299.9,155.7 L301.2,154.6 L302.5,153.4 L303.8,152.3 L305.1,151.2 L306.4,150.0 L307.7,148.9 L308.9,147.8 L310.2,146.8 L311.5,145.7 L312.8,144.6 L314.1,143.6 L315.4,142.5 L316.7,141.5 L317.9,140.5 L319.2,139.5 L320.5,138.5 L321.8,137.6 L323.1,136.6 L324.4,135.7 L325.7,134.7 L326.9,133.8 L328.2,132.9 L329.5,132.0 L330.8,131.1 L332.1,130.2 L333.4,129.4 L334.6,128.5 L335.9,127.6 L337.2,126.8 L338.5,126.0 L339.8,125.1 L341.1,124.3 L342.4,123.5 L343.6,122.7 L344.9,121.9 L346.2,121.1 L347.5,120.4 L348.8,119.6 L350.1,118.8 L351.4,118.1 L352.6,117.3 L353.9,116.6 L355.2,115.8 L356.5,115.1 L357.8,114.3 L359.1,113.6 L360.4,112.9 L361.6,112.2 L362.9,111.4 L364.2,110.7 L365.5,110.0 L366.8,109.3 L368.1,108.6 L369.4,107.9 L370.6,107.1 L371.9,106.4 L373.2,105.7 L374.5,105.0 L375.8,104.3 L377.1,103.6 L378.3,102.9 L379.6,102.2 L380.9,101.5 L382.2,100.8 L383.5,100.1 L384.8,99.4 L386.1,98.6 L387.3,97.9 L388.6,97.2 L389.9,96.5 L391.2,95.7 L392.5,95.0 L393.8,94.3 L395.1,93.5 L396.3,92.8 L397.6,92.0 L398.9,91.3 L400.2,90.5" fill="none" stroke="#0000ff" stroke-width="1.8"/>
<path d="M67.3,310.4 L68.6,310.2 L69.9,309.9 L71.2,309.6 L72.4,309.3 L73.7,309.1 L75.0,308.8 L76.3,308.5 L77.6,308.2 L78.9,307.9 L80.2,307.7 L81.4,307.4 L82.7,307.1 L84.0,306.8 L85.3,306.4 L86.6,306.1 L87.9,305.8 L89.2,305.5 L90.4,305.2 L91.7,304.8 L93.0,304.5 L94.3,304.2 L95.6,303.8 L96.9,303.5 L98.1,303.1 L99.4,302.8 L100.7,302.4 L102.0,302.1 L103.3,301.7 L104.6,301.3 L105.9,300.9 L107.1,300.6 L108.4,300.2 L109.7,299.8 L111.0,299.4 L112.3,299.0 L113.6,298.6 L114.9,298.1 L116.1,297.7 L117.4,297.3 L118.7,296.9 L120.0,296.4 L121.3,296.0 L122.6,295.5 L123.9,295.1 L125.1,294.6 L126.4,294.1 L127.7,293.7 L129.0,293.2 L130.3,292.7 L131.6,292.2 L132.9,291.7 L134.1,291.2 L135.4,290.7 L136.7,290.2 L138.0,289.7 L139.3,289.1 L140.6,288.6 L141.8,288.0 L143.1,287.5 L144.4,286.9 L145.7,286.4 L147.0,285.8 L148.3,285.2 L149.6,284.6 L150.8,284.0 L152.1,283.4 L153.4,282.8 L154.7,282.2 L156.0,281.6 L157.3,281.0 L158.6,280.3 L159.8,279.7 L161.1,279.0 L162.4,278.4 L163.7,277.7 L165.0,277.0 L166.3,276.3 L167.6,275.6 L168.8,274.9 L170.1,274.2 L171.4,273.5 L172.7,272.8 L174.0,272.0 L175.3,271.3 L176.6,270.6 L177.8,269.8 L179.1,269.0 L180.4,268.3 L181.7,267.5 L183.0,266.7 L184.3,265.9 L185.6,265.1 L186.8,264.3 L188.1,263.4 L189.4,262.6 L190.7,261.8 L192.0,260.9 L193.3,260.1 L194.5,259.2 L195.8,258.3 L197.1,257.4 L198.4,256.5 L199.7,255.6 L201.0,254.7 L202.3,253.8 L203.5,252.9 L204.8,251.9 L206.1,251.0 L207.4,250.0 L208.7,249.1 L210.0,248.1 L211.3,247.1 L212.5,246.2 L213.8,245.2 L215.1,244.2 L216.4,243.2 L217.7,242.2 L219.0,241.2 L220.3,240.2 L221.5,239.2 L222.8,238.1 L224.1,237.1 L225.4,236.1 L226.7,235.1 L228.0,234.1 L229.3,233.0 L230.5,232.0 L231.8,231.0 L233.1,230.0 L234.4,229.0 L235.7,227.9 L237.0,226.9 L238.2,225.9 L239.5,224.9 L240.8,223.9 L242.1,222.9 L243.4,221.9 L244.7,220.9 L246.0,220.0 L247.2,219.0 L248.5,218.0 L249.8,217.0 L251.1,216.1 L252.4,215.1 L253.7,214.2 L255.0,213.2 L256.2,212.2 L257.5,211.3 L258.8,210.3 L260.1,209.3 L261.4,208.4 L262.7,207.4 L264.0,206.4 L265.2,205.4 L266.5,204.4 L267.8,203.4 L269.1,202.4 L270.4,201.4 L271.7,200.3 L273.0,199.3 L274.2,198.2 L275.5,197.1 L276.8,196.0 L278.1,195.0 L279.4,193.8 L280.7,192.7 L281.9,191.6 L283.2,190.5 L284.5,189.3 L285.8,188.2 L287.1,187.0 L288.4,185.9 L289.7,184.7 L290.9,183.5 L292.2,182.3 L293.5,181.1 L294.8,180.0 L296.1,178.8 L297.4,177.6 L298.7,176.4 L299.9,175.2 L301.2,174.1 L302.5,172.9 L303.8,171.7 L305.1,170.6 L306.4,169.4 L307.7,168.3 L308.9,167.1 L310.2,166.0 L311.5,164.9 L312.8,163.8 L314.1,162.7 L315.4,161.6 L316.7,160.5 L317.9,159.5 L319.2,158.4 L320.5,157.4 L321.8,156.4 L323.1,155.4 L324.4,154.4 L325.7,153.5 L326.9,152.5 L328.2,151.6 L329.5,150.7 L330.8,149.8 L332.1,148.9 L333.4,148.0 L334.6,147.1 L335.9,146.3 L337.2,145.5 L338.5,144.6 L339.8,143.8 L341.1,143.0 L342.4,142.3 L343.6,141.5 L344.9,140.8 L346.2,140.0 L347.5,139.3 L348.8,138.6 L350.1,137.9 L351.4,137.3 L352.6,136.6 L353.9,136.0 L355.2,135.3 L356.5,134.7 L357.8,134.1 L359.1,133.6 L360.4,133.0 L361.6,132.4 L362.9,131.9 L364.2,131.4 L365.5,130.9 L366.8,130.4 L368.1,129.9 L369.4,129.5 L370.6,129.0 L371.9,128.6 L373.2,128.2 L374.5,127.8 L375.8,127.4 L377.1,127.0 L378.3,126.7 L379.6,126.3 L380.9,126.0 L382.2,125.7 L383.5,125.4 L384.8,125.1 L386.1,124.9 L387.3,124.6 L388.6,124.4 L389.9,124.2 L391.2,124.0 L392.5,123.8 L393.8,123.6 L395.1,123.4 L396.3,123.3 L397.6,123.2 L398.9,123.1 L400.2,123.0" fill="none" stroke="#0000ff" stroke-width="1.8"/>
<clipPath id="cr"><path d="M67.3,316.4 L68.6,316.2 L69.9,316.0 L71.2,315.7 L72.4,315.4 L73.7,315.2 L75.0,314.9 L76.3,314.6 L77.6,314.3 L78.9,314.0 L80.2,313.6 L81.4,313.3 L82.7,313.0 L84.0,312.6 L85.3,312.3 L86.6,311.9 L87.9,311.5 L89.2,311.2 L90.4,310.8 L91.7,310.4 L93.0,310.0 L94.3,309.6 L95.6,309.2 L96.9,308.8 L98.1,308.4 L99.4,308.0 L100.7,307.6 L102.0,307.2 L103.3,306.8 L104.6,306.3 L105.9,305.9 L107.1,305.5 L108.4,305.1 L109.7,304.7 L111.0,304.3 L112.3,303.9 L113.6,303.5 L114.9,303.1 L116.1,302.7 L117.4,302.3 L118.7,301.9 L120.0,301.5 L121.3,301.1 L122.6,300.7 L123.9,300.3 L125.1,299.9 L126.4,299.5 L127.7,299.2 L129.0,298.8 L130.3,298.4 L131.6,298.0 L132.9,297.7 L134.1,297.3 L135.4,296.9 L136.7,296.5 L138.0,296.1 L139.3,295.8 L140.6,295.4 L141.8,295.0 L143.1,294.6 L144.4,294.2 L145.7,293.8 L147.0,293.4 L148.3,293.0 L149.6,292.6 L150.8,292.2 L152.1,291.8 L153.4,291.4 L154.7,291.0 L156.0,290.6 L157.3,290.2 L158.6,289.8 L159.8,289.3 L161.1,288.9 L162.4,288.4 L163.7,288.0 L165.0,287.5 L166.3,287.1 L167.6,286.6 L168.8,286.2 L170.1,285.7 L171.4,285.2 L172.7,284.8 L174.0,284.3 L175.3,283.8 L176.6,283.3 L177.8,282.9 L179.1,282.4 L180.4,281.9 L181.7,281.4 L183.0,281.0 L184.3,280.5 L185.6,280.0 L186.8,279.5 L188.1,279.0 L189.4,278.6 L190.7,278.1 L192.0,277.6 L193.3,277.2 L194.5,276.7 L195.8,276.2 L197.1,275.8 L198.4,275.3 L199.7,274.9 L201.0,274.4 L202.3,274.0 L203.5,273.6 L204.8,273.1 L206.1,272.7 L207.4,272.3 L208.7,271.9 L210.0,271.5 L211.3,271.0 L212.5,270.6 L213.8,270.2 L215.1,269.7 L216.4,269.3 L217.7,268.8 L219.0,268.3 L220.3,267.8 L221.5,267.3 L222.8,266.7 L224.1,266.1 L225.4,265.5 L226.7,264.9 L228.0,264.2 L229.3,263.5 L230.5,262.8 L231.8,262.1 L233.1,261.3 L234.4,260.5 L235.7,259.7 L237.0,258.8 L238.2,258.0 L239.5,257.1 L240.8,256.2 L242.1,255.3 L243.4,254.4 L244.7,253.4 L246.0,252.4 L247.2,251.5 L248.5,250.5 L249.8,249.5 L251.1,248.4 L252.4,247.4 L253.7,246.4 L255.0,245.3 L256.2,244.3 L257.5,243.2 L258.8,242.1 L260.1,241.0 L261.4,239.9 L262.7,238.8 L264.0,237.7 L265.2,236.6 L266.5,235.4 L267.8,234.3 L269.1,233.2 L270.4,232.0 L271.7,230.9 L273.0,229.7 L274.2,228.6 L275.5,227.4 L276.8,226.2 L278.1,225.1 L279.4,223.9 L280.7,222.7 L281.9,221.5 L283.2,220.4 L284.5,219.2 L285.8,218.0 L287.1,216.8 L288.4,215.6 L289.7,214.4 L290.9,213.2 L292.2,212.0 L293.5,210.8 L294.8,209.6 L296.1,208.4 L297.4,207.2 L298.7,205.9 L299.9,204.7 L301.2,203.5 L302.5,202.3 L303.8,201.0 L305.1,199.8 L306.4,198.6 L307.7,197.4 L308.9,196.2 L310.2,195.0 L311.5,193.8 L312.8,192.6 L314.1,191.4 L315.4,190.2 L316.7,189.1 L317.9,187.9 L319.2,186.8 L320.5,185.7 L321.8,184.6 L323.1,183.5 L324.4,182.5 L325.7,181.4 L326.9,180.4 L328.2,179.3 L329.5,178.3 L330.8,177.3 L332.1,176.3 L333.4,175.3 L334.6,174.3 L335.9,173.4 L337.2,172.4 L338.5,171.5 L339.8,170.6 L341.1,169.7 L342.4,168.8 L343.6,167.9 L344.9,167.0 L346.2,166.2 L347.5,165.3 L348.8,164.5 L350.1,163.7 L351.4,162.8 L352.6,162.0 L353.9,161.2 L355.2,160.5 L356.5,159.7 L357.8,158.9 L359.1,158.1 L360.4,157.4 L361.6,156.7 L362.9,155.9 L364.2,155.2 L365.5,154.5 L366.8,153.8 L368.1,153.1 L369.4,152.4 L370.6,151.7 L371.9,151.0 L373.2,150.3 L374.5,149.7 L375.8,149.0 L377.1,148.4 L378.3,147.7 L379.6,147.1 L380.9,146.5 L382.2,145.8 L383.5,145.2 L384.8,144.6 L386.1,144.0 L387.3,143.4 L388.6,142.8 L389.9,142.2 L391.2,141.6 L392.5,141.0 L393.8,140.4 L395.1,139.8 L396.3,139.2 L397.6,138.6 L398.9,138.1 L400.2,137.5 L400.2,165.0 L398.9,165.3 L397.6,165.5 L396.3,165.8 L395.1,166.2 L393.8,166.5 L392.5,166.8 L391.2,167.2 L389.9,167.5 L388.6,167.9 L387.3,168.3 L386.1,168.7 L384.8,169.1 L383.5,169.5 L382.2,170.0 L380.9,170.4 L379.6,170.9 L378.3,171.3 L377.1,171.8 L375.8,172.3 L374.5,172.8 L373.2,173.3 L371.9,173.8 L370.6,174.3 L369.4,174.8 L368.1,175.3 L366.8,175.9 L365.5,176.4 L364.2,177.0 L362.9,177.5 L361.6,178.1 L360.4,178.7 L359.1,179.3 L357.8,179.9 L356.5,180.5 L355.2,181.1 L353.9,181.8 L352.6,182.4 L351.4,183.1 L350.1,183.8 L348.8,184.4 L347.5,185.1 L346.2,185.9 L344.9,186.6 L343.6,187.3 L342.4,188.1 L341.1,188.9 L339.8,189.7 L338.5,190.5 L337.2,191.3 L335.9,192.2 L334.6,193.0 L333.4,193.9 L332.1,194.8 L330.8,195.7 L329.5,196.6 L328.2,197.5 L326.9,198.5 L325.7,199.5 L324.4,200.4 L323.1,201.4 L321.8,202.4 L320.5,203.4 L319.2,204.4 L317.9,205.5 L316.7,206.5 L315.4,207.6 L314.1,208.6 L312.8,209.7 L311.5,210.8 L310.2,211.9 L308.9,213.0 L307.7,214.1 L306.4,215.2 L305.1,216.3 L303.8,217.4 L302.5,218.6 L301.2,219.7 L299.9,220.8 L298.7,222.0 L297.4,223.1 L296.1,224.3 L294.8,225.5 L293.5,226.6 L292.2,227.8 L290.9,229.0 L289.7,230.1 L288.4,231.3 L287.1,232.5 L285.8,233.7 L284.5,234.8 L283.2,236.0 L281.9,237.2 L280.7,238.4 L279.4,239.5 L278.1,240.7 L276.8,241.9 L275.5,243.1 L274.2,244.2 L273.0,245.4 L271.7,246.6 L270.4,247.8 L269.1,248.9 L267.8,250.1 L266.5,251.2 L265.2,252.4 L264.0,253.5 L262.7,254.7 L261.4,255.8 L260.1,256.9 L258.8,258.0 L257.5,259.1 L256.2,260.1 L255.0,261.2 L253.7,262.2 L252.4,263.2 L251.1,264.2 L249.8,265.1 L248.5,266.1 L247.2,267.0 L246.0,267.8 L244.7,268.7 L243.4,269.5 L242.1,270.3 L240.8,271.1 L239.5,271.9 L238.2,272.7 L237.0,273.4 L235.7,274.1 L234.4,274.8 L233.1,275.5 L231.8,276.1 L230.5,276.8 L229.3,277.4 L228.0,278.0 L226.7,278.6 L225.4,279.2 L224.1,279.8 L222.8,280.3 L221.5,280.9 L220.3,281.4 L219.0,282.0 L217.7,282.5 L216.4,283.0 L215.1,283.5 L213.8,284.0 L212.5,284.5 L211.3,285.0 L210.0,285.5 L208.7,285.9 L207.4,286.4 L206.1,286.9 L204.8,287.3 L203.5,287.8 L202.3,288.3 L201.0,288.7 L199.7,289.2 L198.4,289.6 L197.1,290.1 L195.8,290.5 L194.5,291.0 L193.3,291.4 L192.0,291.9 L190.7,292.3 L189.4,292.8 L188.1,293.2 L186.8,293.7 L185.6,294.1 L184.3,294.5 L183.0,295.0 L181.7,295.4 L180.4,295.8 L179.1,296.2 L177.8,296.7 L176.6,297.1 L175.3,297.5 L174.0,297.9 L172.7,298.3 L171.4,298.8 L170.1,299.2 L168.8,299.6 L167.6,300.0 L166.3,300.4 L165.0,300.8 L163.7,301.2 L162.4,301.6 L161.1,302.0 L159.8,302.4 L158.6,302.8 L157.3,303.2 L156.0,303.5 L154.7,303.9 L153.4,304.3 L152.1,304.7 L150.8,305.0 L149.6,305.4 L148.3,305.8 L147.0,306.2 L145.7,306.5 L144.4,306.9 L143.1,307.2 L141.8,307.6 L140.6,307.9 L139.3,308.3 L138.0,308.6 L136.7,309.0 L135.4,309.3 L134.1,309.7 L132.9,310.0 L131.6,310.4 L130.3,310.7 L129.0,311.0 L127.7,311.3 L126.4,311.7 L125.1,312.0 L123.9,312.3 L122.6,312.6 L121.3,313.0 L120.0,313.3 L118.7,313.6 L117.4,313.9 L116.1,314.2 L114.9,314.5 L113.6,314.8 L112.3,315.1 L111.0,315.4 L109.7,315.7 L108.4,316.0 L107.1,316.3 L105.9,316.6 L104.6,316.8 L103.3,317.1 L102.0,317.4 L100.7,317.7 L99.4,318.0 L98.1,318.2 L96.9,318.5 L95.6,318.8 L94.3,319.0 L93.0,319.3 L91.7,319.6 L90.4,319.8 L89.2,320.1 L87.9,320.3 L86.6,320.6 L85.3,320.8 L84.0,321.1 L82.7,321.3 L81.4,321.6 L80.2,321.8 L78.9,322.0 L77.6,322.3 L76.3,322.5 L75.0,322.7 L73.7,322.9 L72.4,323.2 L71.2,323.4 L69.9,323.6 L68.6,323.8 L67.3,324.0Z"/></clipPath>
<path clip-path="url(#cr)" d="M-427.80,0 L-96.13,398 M-422.40,0 L-90.73,398 M-417.00,0 L-85.33,398 M-411.60,0 L-79.93,398 M-406.20,0 L-74.53,398 M-400.80,0 L-69.13,398 M-395.40,0 L-63.73,398 M-390.00,0 L-58.33,398 M-384.60,0 L-52.93,398 M-379.20,0 L-47.53,398 M-373.80,0 L-42.13,398 M-368.40,0 L-36.73,398 M-363.00,0 L-31.33,398 M-357.60,0 L-25.93,398 M-352.20,0 L-20.53,398 M-346.80,0 L-15.13,398 M-341.40,0 L-9.73,398 M-336.00,0 L-4.33,398 M-330.60,0 L1.07,398 M-325.20,0 L6.47,398 M-319.80,0 L11.87,398 M-314.40,0 L17.27,398 M-309.00,0 L22.67,398 M-303.60,0 L28.07,398 M-298.20,0 L33.47,398 M-292.80,0 L38.87,398 M-287.40,0 L44.27,398 M-282.00,0 L49.67,398 M-276.60,0 L55.07,398 M-271.20,0 L60.47,398 M-265.80,0 L65.87,398 M-260.40,0 L71.27,398 M-255.00,0 L76.67,398 M-249.60,0 L82.07,398 M-244.20,0 L87.47,398 M-238.80,0 L92.87,398 M-233.40,0 L98.27,398 M-228.00,0 L103.67,398 M-222.60,0 L109.07,398 M-217.20,0 L114.47,398 M-211.80,0 L119.87,398 M-206.40,0 L125.27,398 M-201.00,0 L130.67,398 M-195.60,0 L136.07,398 M-190.20,0 L141.47,398 M-184.80,0 L146.87,398 M-179.40,0 L152.27,398 M-174.00,0 L157.67,398 M-168.60,0 L163.07,398 M-163.20,0 L168.47,398 M-157.80,0 L173.87,398 M-152.40,0 L179.27,398 M-147.00,0 L184.67,398 M-141.60,0 L190.07,398 M-136.20,0 L195.47,398 M-130.80,0 L200.87,398 M-125.40,0 L206.27,398 M-120.00,0 L211.67,398 M-114.60,0 L217.07,398 M-109.20,0 L222.47,398 M-103.80,0 L227.87,398 M-98.40,0 L233.27,398 M-93.00,0 L238.67,398 M-87.60,0 L244.07,398 M-82.20,0 L249.47,398 M-76.80,0 L254.87,398 M-71.40,0 L260.27,398 M-66.00,0 L265.67,398 M-60.60,0 L271.07,398 M-55.20,0 L276.47,398 M-49.80,0 L281.87,398 M-44.40,0 L287.27,398 M-39.00,0 L292.67,398 M-33.60,0 L298.07,398 M-28.20,0 L303.47,398 M-22.80,0 L308.87,398 M-17.40,0 L314.27,398 M-12.00,0 L319.67,398 M-6.60,0 L325.07,398 M-1.20,0 L330.47,398 M4.20,0 L335.87,398 M9.60,0 L341.27,398 M15.00,0 L346.67,398 M20.40,0 L352.07,398 M25.80,0 L357.47,398 M31.20,0 L362.87,398 M36.60,0 L368.27,398 M42.00,0 L373.67,398 M47.40,0 L379.07,398 M52.80,0 L384.47,398 M58.20,0 L389.87,398 M63.60,0 L395.27,398 M69.00,0 L400.67,398 M74.40,0 L406.07,398 M79.80,0 L411.47,398 M85.20,0 L416.87,398 M90.60,0 L422.27,398 M96.00,0 L427.67,398 M101.40,0 L433.07,398 M106.80,0 L438.47,398 M112.20,0 L443.87,398 M117.60,0 L449.27,398 M123.00,0 L454.67,398 M128.40,0 L460.07,398 M133.80,0 L465.47,398 M139.20,0 L470.87,398 M144.60,0 L476.27,398 M150.00,0 L481.67,398 M155.40,0 L487.07,398 M160.80,0 L492.47,398 M166.20,0 L497.87,398 M171.60,0 L503.27,398 M177.00,0 L508.67,398 M182.40,0 L514.07,398 M187.80,0 L519.47,398 M193.20,0 L524.87,398 M198.60,0 L530.27,398 M204.00,0 L535.67,398 M209.40,0 L541.07,398 M214.80,0 L546.47,398 M220.20,0 L551.87,398 M225.60,0 L557.27,398 M231.00,0 L562.67,398 M236.40,0 L568.07,398 M241.80,0 L573.47,398 M247.20,0 L578.87,398 M252.60,0 L584.27,398 M258.00,0 L589.67,398 M263.40,0 L595.07,398 M268.80,0 L600.47,398 M274.20,0 L605.87,398 M279.60,0 L611.27,398 M285.00,0 L616.67,398 M290.40,0 L622.07,398 M295.80,0 L627.47,398 M301.20,0 L632.87,398 M306.60,0 L638.27,398 M312.00,0 L643.67,398 M317.40,0 L649.07,398 M322.80,0 L654.47,398 M328.20,0 L659.87,398 M333.60,0 L665.27,398 M339.00,0 L670.67,398 M344.40,0 L676.07,398 M349.80,0 L681.47,398 M355.20,0 L686.87,398 M360.60,0 L692.27,398 M366.00,0 L697.67,398 M371.40,0 L703.07,398 M376.80,0 L708.47,398 M382.20,0 L713.87,398 M387.60,0 L719.27,398 M393.00,0 L724.67,398 M398.40,0 L730.07,398 M403.80,0 L735.47,398 M409.20,0 L740.87,398 M414.60,0 L746.27,398 M420.00,0 L751.67,398 M425.40,0 L757.07,398 M430.80,0 L762.47,398 M436.20,0 L767.87,398 M441.60,0 L773.27,398 M447.00,0 L778.67,398" stroke="#ff0000" stroke-width="1.25" fill="none"/>
<path d="M67.3,316.4 L68.6,316.2 L69.9,316.0 L71.2,315.7 L72.4,315.4 L73.7,315.2 L75.0,314.9 L76.3,314.6 L77.6,314.3 L78.9,314.0 L80.2,313.6 L81.4,313.3 L82.7,313.0 L84.0,312.6 L85.3,312.3 L86.6,311.9 L87.9,311.5 L89.2,311.2 L90.4,310.8 L91.7,310.4 L93.0,310.0 L94.3,309.6 L95.6,309.2 L96.9,308.8 L98.1,308.4 L99.4,308.0 L100.7,307.6 L102.0,307.2 L103.3,306.8 L104.6,306.3 L105.9,305.9 L107.1,305.5 L108.4,305.1 L109.7,304.7 L111.0,304.3 L112.3,303.9 L113.6,303.5 L114.9,303.1 L116.1,302.7 L117.4,302.3 L118.7,301.9 L120.0,301.5 L121.3,301.1 L122.6,300.7 L123.9,300.3 L125.1,299.9 L126.4,299.5 L127.7,299.2 L129.0,298.8 L130.3,298.4 L131.6,298.0 L132.9,297.7 L134.1,297.3 L135.4,296.9 L136.7,296.5 L138.0,296.1 L139.3,295.8 L140.6,295.4 L141.8,295.0 L143.1,294.6 L144.4,294.2 L145.7,293.8 L147.0,293.4 L148.3,293.0 L149.6,292.6 L150.8,292.2 L152.1,291.8 L153.4,291.4 L154.7,291.0 L156.0,290.6 L157.3,290.2 L158.6,289.8 L159.8,289.3 L161.1,288.9 L162.4,288.4 L163.7,288.0 L165.0,287.5 L166.3,287.1 L167.6,286.6 L168.8,286.2 L170.1,285.7 L171.4,285.2 L172.7,284.8 L174.0,284.3 L175.3,283.8 L176.6,283.3 L177.8,282.9 L179.1,282.4 L180.4,281.9 L181.7,281.4 L183.0,281.0 L184.3,280.5 L185.6,280.0 L186.8,279.5 L188.1,279.0 L189.4,278.6 L190.7,278.1 L192.0,277.6 L193.3,277.2 L194.5,276.7 L195.8,276.2 L197.1,275.8 L198.4,275.3 L199.7,274.9 L201.0,274.4 L202.3,274.0 L203.5,273.6 L204.8,273.1 L206.1,272.7 L207.4,272.3 L208.7,271.9 L210.0,271.5 L211.3,271.0 L212.5,270.6 L213.8,270.2 L215.1,269.7 L216.4,269.3 L217.7,268.8 L219.0,268.3 L220.3,267.8 L221.5,267.3 L222.8,266.7 L224.1,266.1 L225.4,265.5 L226.7,264.9 L228.0,264.2 L229.3,263.5 L230.5,262.8 L231.8,262.1 L233.1,261.3 L234.4,260.5 L235.7,259.7 L237.0,258.8 L238.2,258.0 L239.5,257.1 L240.8,256.2 L242.1,255.3 L243.4,254.4 L244.7,253.4 L246.0,252.4 L247.2,251.5 L248.5,250.5 L249.8,249.5 L251.1,248.4 L252.4,247.4 L253.7,246.4 L255.0,245.3 L256.2,244.3 L257.5,243.2 L258.8,242.1 L260.1,241.0 L261.4,239.9 L262.7,238.8 L264.0,237.7 L265.2,236.6 L266.5,235.4 L267.8,234.3 L269.1,233.2 L270.4,232.0 L271.7,230.9 L273.0,229.7 L274.2,228.6 L275.5,227.4 L276.8,226.2 L278.1,225.1 L279.4,223.9 L280.7,222.7 L281.9,221.5 L283.2,220.4 L284.5,219.2 L285.8,218.0 L287.1,216.8 L288.4,215.6 L289.7,214.4 L290.9,213.2 L292.2,212.0 L293.5,210.8 L294.8,209.6 L296.1,208.4 L297.4,207.2 L298.7,205.9 L299.9,204.7 L301.2,203.5 L302.5,202.3 L303.8,201.0 L305.1,199.8 L306.4,198.6 L307.7,197.4 L308.9,196.2 L310.2,195.0 L311.5,193.8 L312.8,192.6 L314.1,191.4 L315.4,190.2 L316.7,189.1 L317.9,187.9 L319.2,186.8 L320.5,185.7 L321.8,184.6 L323.1,183.5 L324.4,182.5 L325.7,181.4 L326.9,180.4 L328.2,179.3 L329.5,178.3 L330.8,177.3 L332.1,176.3 L333.4,175.3 L334.6,174.3 L335.9,173.4 L337.2,172.4 L338.5,171.5 L339.8,170.6 L341.1,169.7 L342.4,168.8 L343.6,167.9 L344.9,167.0 L346.2,166.2 L347.5,165.3 L348.8,164.5 L350.1,163.7 L351.4,162.8 L352.6,162.0 L353.9,161.2 L355.2,160.5 L356.5,159.7 L357.8,158.9 L359.1,158.1 L360.4,157.4 L361.6,156.7 L362.9,155.9 L364.2,155.2 L365.5,154.5 L366.8,153.8 L368.1,153.1 L369.4,152.4 L370.6,151.7 L371.9,151.0 L373.2,150.3 L374.5,149.7 L375.8,149.0 L377.1,148.4 L378.3,147.7 L379.6,147.1 L380.9,146.5 L382.2,145.8 L383.5,145.2 L384.8,144.6 L386.1,144.0 L387.3,143.4 L388.6,142.8 L389.9,142.2 L391.2,141.6 L392.5,141.0 L393.8,140.4 L395.1,139.8 L396.3,139.2 L397.6,138.6 L398.9,138.1 L400.2,137.5" fill="none" stroke="#ff0000" stroke-width="1.8"/>
<path d="M67.3,324.0 L68.6,323.8 L69.9,323.6 L71.2,323.4 L72.4,323.2 L73.7,322.9 L75.0,322.7 L76.3,322.5 L77.6,322.3 L78.9,322.0 L80.2,321.8 L81.4,321.6 L82.7,321.3 L84.0,321.1 L85.3,320.8 L86.6,320.6 L87.9,320.3 L89.2,320.1 L90.4,319.8 L91.7,319.6 L93.0,319.3 L94.3,319.0 L95.6,318.8 L96.9,318.5 L98.1,318.2 L99.4,318.0 L100.7,317.7 L102.0,317.4 L103.3,317.1 L104.6,316.8 L105.9,316.6 L107.1,316.3 L108.4,316.0 L109.7,315.7 L111.0,315.4 L112.3,315.1 L113.6,314.8 L114.9,314.5 L116.1,314.2 L117.4,313.9 L118.7,313.6 L120.0,313.3 L121.3,313.0 L122.6,312.6 L123.9,312.3 L125.1,312.0 L126.4,311.7 L127.7,311.3 L129.0,311.0 L130.3,310.7 L131.6,310.4 L132.9,310.0 L134.1,309.7 L135.4,309.3 L136.7,309.0 L138.0,308.6 L139.3,308.3 L140.6,307.9 L141.8,307.6 L143.1,307.2 L144.4,306.9 L145.7,306.5 L147.0,306.2 L148.3,305.8 L149.6,305.4 L150.8,305.0 L152.1,304.7 L153.4,304.3 L154.7,303.9 L156.0,303.5 L157.3,303.2 L158.6,302.8 L159.8,302.4 L161.1,302.0 L162.4,301.6 L163.7,301.2 L165.0,300.8 L166.3,300.4 L167.6,300.0 L168.8,299.6 L170.1,299.2 L171.4,298.8 L172.7,298.3 L174.0,297.9 L175.3,297.5 L176.6,297.1 L177.8,296.7 L179.1,296.2 L180.4,295.8 L181.7,295.4 L183.0,295.0 L184.3,294.5 L185.6,294.1 L186.8,293.7 L188.1,293.2 L189.4,292.8 L190.7,292.3 L192.0,291.9 L193.3,291.4 L194.5,291.0 L195.8,290.5 L197.1,290.1 L198.4,289.6 L199.7,289.2 L201.0,288.7 L202.3,288.3 L203.5,287.8 L204.8,287.3 L206.1,286.9 L207.4,286.4 L208.7,285.9 L210.0,285.5 L211.3,285.0 L212.5,284.5 L213.8,284.0 L215.1,283.5 L216.4,283.0 L217.7,282.5 L219.0,282.0 L220.3,281.4 L221.5,280.9 L222.8,280.3 L224.1,279.8 L225.4,279.2 L226.7,278.6 L228.0,278.0 L229.3,277.4 L230.5,276.8 L231.8,276.1 L233.1,275.5 L234.4,274.8 L235.7,274.1 L237.0,273.4 L238.2,272.7 L239.5,271.9 L240.8,271.1 L242.1,270.3 L243.4,269.5 L244.7,268.7 L246.0,267.8 L247.2,267.0 L248.5,266.1 L249.8,265.1 L251.1,264.2 L252.4,263.2 L253.7,262.2 L255.0,261.2 L256.2,260.1 L257.5,259.1 L258.8,258.0 L260.1,256.9 L261.4,255.8 L262.7,254.7 L264.0,253.5 L265.2,252.4 L266.5,251.2 L267.8,250.1 L269.1,248.9 L270.4,247.8 L271.7,246.6 L273.0,245.4 L274.2,244.2 L275.5,243.1 L276.8,241.9 L278.1,240.7 L279.4,239.5 L280.7,238.4 L281.9,237.2 L283.2,236.0 L284.5,234.8 L285.8,233.7 L287.1,232.5 L288.4,231.3 L289.7,230.1 L290.9,229.0 L292.2,227.8 L293.5,226.6 L294.8,225.5 L296.1,224.3 L297.4,223.1 L298.7,222.0 L299.9,220.8 L301.2,219.7 L302.5,218.6 L303.8,217.4 L305.1,216.3 L306.4,215.2 L307.7,214.1 L308.9,213.0 L310.2,211.9 L311.5,210.8 L312.8,209.7 L314.1,208.6 L315.4,207.6 L316.7,206.5 L317.9,205.5 L319.2,204.4 L320.5,203.4 L321.8,202.4 L323.1,201.4 L324.4,200.4 L325.7,199.5 L326.9,198.5 L328.2,197.5 L329.5,196.6 L330.8,195.7 L332.1,194.8 L333.4,193.9 L334.6,193.0 L335.9,192.2 L337.2,191.3 L338.5,190.5 L339.8,189.7 L341.1,188.9 L342.4,188.1 L343.6,187.3 L344.9,186.6 L346.2,185.9 L347.5,185.1 L348.8,184.4 L350.1,183.8 L351.4,183.1 L352.6,182.4 L353.9,181.8 L355.2,181.1 L356.5,180.5 L357.8,179.9 L359.1,179.3 L360.4,178.7 L361.6,178.1 L362.9,177.5 L364.2,177.0 L365.5,176.4 L366.8,175.9 L368.1,175.3 L369.4,174.8 L370.6,174.3 L371.9,173.8 L373.2,173.3 L374.5,172.8 L375.8,172.3 L377.1,171.8 L378.3,171.3 L379.6,170.9 L380.9,170.4 L382.2,170.0 L383.5,169.5 L384.8,169.1 L386.1,168.7 L387.3,168.3 L388.6,167.9 L389.9,167.5 L391.2,167.2 L392.5,166.8 L393.8,166.5 L395.1,166.2 L396.3,165.8 L397.6,165.5 L398.9,165.3 L400.2,165.0" fill="none" stroke="#ff0000" stroke-width="1.8"/>
<path d="M67.3,307.0 L68.6,306.6 L69.9,306.2 L71.2,305.7 L72.4,305.4 L73.7,305.0 L75.0,304.7 L76.3,304.3 L77.6,304.0 L78.9,303.7 L80.2,303.4 L81.4,303.1 L82.7,302.8 L84.0,302.6 L85.3,302.3 L86.6,302.0 L87.9,301.7 L89.2,301.4 L90.4,301.1 L91.7,300.8 L93.0,300.5 L94.3,300.2 L95.6,299.8 L96.9,299.5 L98.1,299.1 L99.4,298.7 L100.7,298.3 L102.0,297.9 L103.3,297.4 L104.6,296.9 L105.9,296.4 L107.1,295.8 L108.4,295.2 L109.7,294.6 L111.0,293.9 L112.3,293.2 L113.6,292.4 L114.9,291.7 L116.1,290.9 L117.4,290.0 L118.7,289.2 L120.0,288.3 L121.3,287.4 L122.6,286.5 L123.9,285.5 L125.1,284.6 L126.4,283.6 L127.7,282.6 L129.0,281.6 L130.3,280.6 L131.6,279.6 L132.9,278.6 L134.1,277.6 L135.4,276.6 L136.7,275.7 L138.0,274.7 L139.3,273.7 L140.6,272.7 L141.8,271.7 L143.1,270.7 L144.4,269.7 L145.7,268.7 L147.0,267.7 L148.3,266.7 L149.6,265.6 L150.8,264.6 L152.1,263.5 L153.4,262.4 L154.7,261.3 L156.0,260.1 L157.3,259.0 L158.6,257.8 L159.8,256.6 L161.1,255.3 L162.4,254.1 L163.7,252.8 L165.0,251.6 L166.3,250.4 L167.6,249.2 L168.8,248.1 L170.1,247.0 L171.4,245.9 L172.7,244.8 L174.0,243.7 L175.3,242.6 L176.6,241.4 L177.8,240.2 L179.1,238.9 L180.4,237.5 L181.7,236.0 L183.0,234.6 L184.3,233.3 L185.6,232.2 L186.8,231.2 L188.1,230.2 L189.4,229.3 L190.7,228.3 L192.0,227.3 L193.3,226.1 L194.5,225.0 L195.8,223.8 L197.1,222.5 L198.4,221.2 L199.7,220.0 L201.0,218.7 L202.3,217.4 L203.5,216.2 L204.8,215.0 L206.1,213.7 L207.4,212.5 L208.7,211.3 L210.0,210.1 L211.3,208.9 L212.5,207.8 L213.8,206.6 L215.1,205.4 L216.4,204.3 L217.7,203.1 L219.0,202.0 L220.3,200.8 L221.5,199.7 L222.8,198.6 L224.1,197.4 L225.4,196.3 L226.7,195.2 L228.0,194.1 L229.3,193.0 L230.5,191.8 L231.8,190.7 L233.1,189.6 L234.4,188.5 L235.7,187.5 L237.0,186.4 L238.2,185.3 L239.5,184.3 L240.8,183.2 L242.1,182.2 L243.4,181.2 L244.7,180.2 L246.0,179.2 L247.2,178.2 L248.5,177.3 L249.8,176.3 L251.1,175.4 L252.4,174.5 L253.7,173.6 L255.0,172.7 L256.2,171.8 L257.5,170.9 L258.8,170.1 L260.1,169.2 L261.4,168.4 L262.7,167.5 L264.0,166.7 L265.2,165.9 L266.5,165.0 L267.8,164.2 L269.1,163.4 L270.4,162.6 L271.7,161.8 L273.0,161.0 L274.2,160.2 L275.5,159.4 L276.8,158.6 L278.1,157.8 L279.4,157.0 L280.7,156.2 L281.9,155.4 L283.2,154.7 L284.5,153.9 L285.8,153.1 L287.1,152.3 L288.4,151.6 L289.7,150.8 L290.9,150.1 L292.2,149.3 L293.5,148.5 L294.8,147.8 L296.1,147.1 L297.4,146.3 L298.7,145.6 L299.9,144.8 L301.2,144.1 L302.5,143.4 L303.8,142.7 L305.1,141.9 L306.4,141.2 L307.7,140.5 L308.9,139.8 L310.2,139.1 L311.5,138.4 L312.8,137.7 L314.1,137.0 L315.4,136.3 L316.7,135.6 L317.9,134.9 L319.2,134.2 L320.5,133.5 L321.8,132.8 L323.1,132.2 L324.4,131.5 L325.7,130.8 L326.9,130.1 L328.2,129.5 L329.5,128.8 L330.8,128.1 L332.1,127.4 L333.4,126.7 L334.6,126.1 L335.9,125.4 L337.2,124.7 L338.5,124.0 L339.8,123.3 L341.1,122.6 L342.4,121.9 L343.6,121.2 L344.9,120.5 L346.2,119.7 L347.5,119.0 L348.8,118.3 L350.1,117.6 L351.4,116.8 L352.6,116.1 L353.9,115.3 L355.2,114.6 L356.5,113.8 L357.8,113.0 L359.1,112.3 L360.4,111.5 L361.6,110.7 L362.9,110.0 L364.2,109.2 L365.5,108.4 L366.8,107.6 L368.1,106.9 L369.4,106.1 L370.6,105.3 L371.9,104.5 L373.2,103.8 L374.5,103.0 L375.8,102.2 L377.1,101.4 L378.3,100.7 L379.6,99.9 L380.9,99.2 L382.2,98.4 L383.5,97.7 L384.8,96.9 L386.1,96.2 L387.3,95.4 L388.6,94.7 L389.9,94.0 L391.2,93.3 L392.5,92.6 L393.8,91.9 L395.1,91.2 L396.3,90.5 L397.6,89.8 L398.9,89.2 L400.2,88.5" fill="none" stroke="#006400" stroke-width="1.5" stroke-dasharray="1.2,2.4"/>
<path d="M67.3,303.2 L68.6,302.9 L69.9,302.6 L71.2,302.2 L72.4,301.8 L73.7,301.5 L75.0,301.1 L76.3,300.7 L77.6,300.2 L78.9,299.8 L80.2,299.3 L81.4,298.9 L82.7,298.4 L84.0,297.9 L85.3,297.3 L86.6,296.8 L87.9,296.2 L89.2,295.7 L90.4,295.1 L91.7,294.5 L93.0,293.9 L94.3,293.3 L95.6,292.6 L96.9,292.0 L98.1,291.3 L99.4,290.6 L100.7,289.9 L102.0,289.2 L103.3,288.5 L104.6,287.8 L105.9,287.0 L107.1,286.3 L108.4,285.5 L109.7,284.7 L111.0,283.9 L112.3,283.1 L113.6,282.3 L114.9,281.5 L116.1,280.6 L117.4,279.8 L118.7,278.9 L120.0,278.1 L121.3,277.2 L122.6,276.3 L123.9,275.4 L125.1,274.5 L126.4,273.6 L127.7,272.6 L129.0,271.7 L130.3,270.7 L131.6,269.8 L132.9,268.8 L134.1,267.8 L135.4,266.8 L136.7,265.8 L138.0,264.8 L139.3,263.8 L140.6,262.8 L141.8,261.8 L143.1,260.8 L144.4,259.7 L145.7,258.7 L147.0,257.6 L148.3,256.6 L149.6,255.5 L150.8,254.4 L152.1,253.3 L153.4,252.2 L154.7,251.2 L156.0,250.1 L157.3,248.9 L158.6,247.8 L159.8,246.7 L161.1,245.6 L162.4,244.5 L163.7,243.3 L165.0,242.2 L166.3,241.1 L167.6,239.9 L168.8,238.8 L170.1,237.6 L171.4,236.5 L172.7,235.3 L174.0,234.1 L175.3,233.0 L176.6,231.8 L177.8,230.6 L179.1,229.5 L180.4,228.3 L181.7,227.1 L183.0,225.9 L184.3,224.7 L185.6,223.6 L186.8,222.4 L188.1,221.2 L189.4,220.0 L190.7,218.8 L192.0,217.6 L193.3,216.4 L194.5,215.2 L195.8,214.0 L197.1,212.8 L198.4,211.6 L199.7,210.5 L201.0,209.3 L202.3,208.1 L203.5,206.9 L204.8,205.7 L206.1,204.5 L207.4,203.3 L208.7,202.1 L210.0,200.9 L211.3,199.7 L212.5,198.6 L213.8,197.4 L215.1,196.2 L216.4,195.0 L217.7,193.8 L219.0,192.7 L220.3,191.5 L221.5,190.3 L222.8,189.2 L224.1,188.0 L225.4,186.9 L226.7,185.7 L228.0,184.6 L229.3,183.4 L230.5,182.3 L231.8,181.1 L233.1,180.0 L234.4,178.9 L235.7,177.8 L237.0,176.6 L238.2,175.5 L239.5,174.4 L240.8,173.3 L242.1,172.2 L243.4,171.1 L244.7,170.1 L246.0,169.0 L247.2,167.9 L248.5,166.9 L249.8,165.8 L251.1,164.7 L252.4,163.7 L253.7,162.7 L255.0,161.6 L256.2,160.6 L257.5,159.6 L258.8,158.5 L260.1,157.5 L261.4,156.5 L262.7,155.5 L264.0,154.5 L265.2,153.5 L266.5,152.6 L267.8,151.6 L269.1,150.6 L270.4,149.6 L271.7,148.7 L273.0,147.7 L274.2,146.8 L275.5,145.8 L276.8,144.9 L278.1,144.0 L279.4,143.0 L280.7,142.1 L281.9,141.2 L283.2,140.3 L284.5,139.4 L285.8,138.5 L287.1,137.6 L288.4,136.7 L289.7,135.8 L290.9,134.9 L292.2,134.1 L293.5,133.2 L294.8,132.3 L296.1,131.5 L297.4,130.6 L298.7,129.8 L299.9,128.9 L301.2,128.1 L302.5,127.3 L303.8,126.5 L305.1,125.6 L306.4,124.8 L307.7,124.0 L308.9,123.2 L310.2,122.4 L311.5,121.6 L312.8,120.8 L314.1,120.1 L315.4,119.3 L316.7,118.5 L317.9,117.7 L319.2,117.0 L320.5,116.2 L321.8,115.5 L323.1,114.7 L324.4,114.0 L325.7,113.3 L326.9,112.5 L328.2,111.8 L329.5,111.1 L330.8,110.4 L332.1,109.7 L333.4,108.9 L334.6,108.2 L335.9,107.6 L337.2,106.9 L338.5,106.2 L339.8,105.5 L341.1,104.8 L342.4,104.2 L343.6,103.5 L344.9,102.8 L346.2,102.2 L347.5,101.5 L348.8,100.9 L350.1,100.2 L351.4,99.6 L352.6,99.0 L353.9,98.3 L355.2,97.7 L356.5,97.1 L357.8,96.5 L359.1,95.9 L360.4,95.3 L361.6,94.7 L362.9,94.1 L364.2,93.5 L365.5,92.9 L366.8,92.3 L368.1,91.7 L369.4,91.2 L370.6,90.6 L371.9,90.0 L373.2,89.5 L374.5,88.9 L375.8,88.4 L377.1,87.8 L378.3,87.3 L379.6,86.8 L380.9,86.2 L382.2,85.7 L383.5,85.2 L384.8,84.7 L386.1,84.2 L387.3,83.7 L388.6,83.2 L389.9,82.7 L391.2,82.2 L392.5,81.7 L393.8,81.2 L395.1,80.7 L396.3,80.2 L397.6,79.7 L398.9,79.3 L400.2,78.8" fill="none" stroke="#006400" stroke-width="1.5" stroke-dasharray="6.5,3.9"/>
<path d="M67.3,297.4 L68.6,297.4 L69.9,297.4 L71.2,297.3 L72.4,297.2 L73.7,297.1 L75.0,296.9 L76.3,296.7 L77.6,296.5 L78.9,296.3 L80.2,296.0 L81.4,295.8 L82.7,295.4 L84.0,295.1 L85.3,294.8 L86.6,294.4 L87.9,294.0 L89.2,293.5 L90.4,293.1 L91.7,292.6 L93.0,292.1 L94.3,291.6 L95.6,291.0 L96.9,290.4 L98.1,289.8 L99.4,289.2 L100.7,288.6 L102.0,287.9 L103.3,287.2 L104.6,286.5 L105.9,285.7 L107.1,285.0 L108.4,284.2 L109.7,283.4 L111.0,282.6 L112.3,281.7 L113.6,280.8 L114.9,279.9 L116.1,279.0 L117.4,278.1 L118.7,277.1 L120.0,276.2 L121.3,275.2 L122.6,274.2 L123.9,273.1 L125.1,272.1 L126.4,271.0 L127.7,270.0 L129.0,268.9 L130.3,267.8 L131.6,266.7 L132.9,265.5 L134.1,264.4 L135.4,263.2 L136.7,262.1 L138.0,260.9 L139.3,259.8 L140.6,258.6 L141.8,257.4 L143.1,256.2 L144.4,255.0 L145.7,253.8 L147.0,252.6 L148.3,251.4 L149.6,250.2 L150.8,249.0 L152.1,247.7 L153.4,246.5 L154.7,245.3 L156.0,244.1 L157.3,242.9 L158.6,241.7 L159.8,240.5 L161.1,239.3 L162.4,238.1 L163.7,237.0 L165.0,235.8 L166.3,234.6 L167.6,233.4 L168.8,232.3 L170.1,231.1 L171.4,230.0 L172.7,228.8 L174.0,227.6 L175.3,226.5 L176.6,225.4 L177.8,224.2 L179.1,223.1 L180.4,221.9 L181.7,220.8 L183.0,219.7 L184.3,218.5 L185.6,217.4 L186.8,216.3 L188.1,215.2 L189.4,214.1 L190.7,212.9 L192.0,211.8 L193.3,210.7 L194.5,209.6 L195.8,208.5 L197.1,207.4 L198.4,206.3 L199.7,205.1 L201.0,204.0 L202.3,202.9 L203.5,201.8 L204.8,200.7 L206.1,199.6 L207.4,198.5 L208.7,197.4 L210.0,196.3 L211.3,195.1 L212.5,194.0 L213.8,192.9 L215.1,191.8 L216.4,190.7 L217.7,189.6 L219.0,188.5 L220.3,187.3 L221.5,186.2 L222.8,185.1 L224.1,184.0 L225.4,182.8 L226.7,181.7 L228.0,180.6 L229.3,179.4 L230.5,178.3 L231.8,177.2 L233.1,176.0 L234.4,174.9 L235.7,173.7 L237.0,172.6 L238.2,171.4 L239.5,170.3 L240.8,169.1 L242.1,167.9 L243.4,166.8 L244.7,165.6 L246.0,164.5 L247.2,163.3 L248.5,162.1 L249.8,161.0 L251.1,159.8 L252.4,158.6 L253.7,157.5 L255.0,156.3 L256.2,155.1 L257.5,154.0 L258.8,152.8 L260.1,151.7 L261.4,150.5 L262.7,149.3 L264.0,148.2 L265.2,147.6 L266.5,146.6 L267.8,145.7 L269.1,144.7 L270.4,143.8 L271.7,142.8 L273.0,141.9 L274.2,141.0 L275.5,140.0 L276.8,139.1 L278.1,138.2 L279.4,137.3 L280.7,136.3 L281.9,135.4 L283.2,134.5 L284.5,133.5 L285.8,132.6 L287.1,131.6 L288.4,130.7 L289.7,129.7 L290.9,128.8 L292.2,127.8 L293.5,126.8 L294.8,125.8 L296.1,124.8 L297.4,123.8 L298.7,122.9 L299.9,121.9 L301.2,120.9 L302.5,119.9 L303.8,119.0 L305.1,118.0 L306.4,117.1 L307.7,116.1 L308.9,115.2 L310.2,114.3 L311.5,113.4 L312.8,112.5 L314.1,111.7 L315.4,110.8 L316.7,110.0 L317.9,109.2 L319.2,108.5 L320.5,107.7 L321.8,107.0 L323.1,106.2 L324.4,105.5 L325.7,104.8 L326.9,104.1 L328.2,103.4 L329.5,102.8 L330.8,102.1 L332.1,101.4 L333.4,100.8 L334.6,100.1 L335.9,99.5 L337.2,98.9 L338.5,98.2 L339.8,97.6 L341.1,96.9 L342.4,96.3 L343.6,95.7 L344.9,95.1 L346.2,94.4 L347.5,93.8 L348.8,93.2 L350.1,92.6 L351.4,92.0 L352.6,91.4 L353.9,90.8 L355.2,90.3 L356.5,89.7 L357.8,89.1 L359.1,88.6 L360.4,88.0 L361.6,87.5 L362.9,86.9 L364.2,86.4 L365.5,85.9 L366.8,85.4 L368.1,84.9 L369.4,84.4 L370.6,83.9 L371.9,83.4 L373.2,82.9 L374.5,82.5 L375.8,82.0 L377.1,81.6 L378.3,81.1 L379.6,80.7 L380.9,80.3 L382.2,79.9 L383.5,79.5 L384.8,79.2 L386.1,78.8 L387.3,78.4 L388.6,78.1 L389.9,77.8 L391.2,77.5 L392.5,77.2 L393.8,76.9 L395.1,76.6 L396.3,76.4 L397.6,76.2 L398.9,76.1 L400.2,76.0" fill="none" stroke="#006400" stroke-width="1.5" stroke-dasharray="6.8,1.9,1.2,1.9"/>
<path d="M67.3,314.0 L68.6,313.8 L69.9,313.6 L71.2,313.3 L72.4,313.1 L73.7,312.9 L75.0,312.7 L76.3,312.5 L77.6,312.2 L78.9,312.0 L80.2,311.7 L81.4,311.5 L82.7,311.2 L84.0,310.9 L85.3,310.6 L86.6,310.4 L87.9,310.1 L89.2,309.8 L90.4,309.5 L91.7,309.1 L93.0,308.8 L94.3,308.5 L95.6,308.1 L96.9,307.8 L98.1,307.4 L99.4,307.1 L100.7,306.7 L102.0,306.3 L103.3,305.9 L104.6,305.5 L105.9,305.1 L107.1,304.7 L108.4,304.3 L109.7,303.9 L111.0,303.4 L112.3,303.0 L113.6,302.5 L114.9,302.0 L116.1,301.5 L117.4,301.0 L118.7,300.5 L120.0,300.0 L121.3,299.5 L122.6,299.0 L123.9,298.4 L125.1,297.9 L126.4,297.3 L127.7,296.7 L129.0,296.2 L130.3,295.6 L131.6,295.0 L132.9,294.3 L134.1,293.7 L135.4,293.1 L136.7,292.4 L138.0,291.7 L139.3,291.1 L140.6,290.4 L141.8,289.7 L143.1,289.0 L144.4,288.2 L145.7,287.5 L147.0,286.4 L148.3,285.8 L149.6,285.2 L150.8,284.6 L152.1,284.0 L153.4,283.4 L154.7,282.8 L156.0,282.2 L157.3,281.6 L158.6,280.9 L159.8,280.3 L161.1,279.6 L162.4,279.0 L163.7,278.3 L165.0,277.6 L166.3,276.9 L167.6,276.2 L168.8,275.5 L170.1,274.8 L171.4,274.1 L172.7,273.4 L174.0,272.6 L175.3,271.9 L176.6,271.2 L177.8,270.4 L179.1,269.6 L180.4,268.9 L181.7,268.1 L183.0,267.3 L184.3,266.5 L185.6,265.7 L186.8,264.9 L188.1,264.0 L189.4,263.2 L190.7,262.4 L192.0,261.5 L193.3,260.7 L194.5,259.8 L195.8,258.9 L197.1,258.0 L198.4,257.1 L199.7,256.2 L201.0,255.3 L202.3,254.4 L203.5,253.5 L204.8,252.5 L206.1,251.6 L207.4,250.6 L208.7,249.7 L210.0,248.7 L211.3,247.7 L212.5,246.8 L213.8,245.8 L215.1,244.8 L216.4,243.8 L217.7,242.8 L219.0,241.8 L220.3,240.8 L221.5,239.8 L222.8,238.7 L224.1,237.7 L225.4,236.7 L226.7,235.7 L228.0,234.7 L229.3,233.6 L230.5,232.6 L231.8,231.6 L233.1,230.6 L234.4,229.6 L235.7,228.5 L237.0,227.5 L238.2,226.5 L239.5,225.5 L240.8,224.5 L242.1,223.5 L243.4,222.5 L244.7,221.5 L246.0,220.6 L247.2,219.6 L248.5,218.6 L249.8,217.6 L251.1,216.7 L252.4,215.7 L253.7,214.8 L255.0,213.8 L256.2,212.8 L257.5,211.9 L258.8,210.9 L260.1,209.9 L261.4,209.0 L262.7,208.0 L264.0,207.0 L265.2,206.0 L266.5,205.0 L267.8,204.0 L269.1,203.0 L270.4,202.0 L271.7,200.9 L273.0,199.9 L274.2,198.8 L275.5,197.7 L276.8,196.6 L278.1,195.6 L279.4,194.4 L280.7,193.3 L281.9,192.2 L283.2,191.1 L284.5,189.9 L285.8,188.8 L287.1,187.6 L288.4,186.5 L289.7,185.3 L290.9,184.1 L292.2,182.8 L293.5,182.0 L294.8,181.2 L296.1,180.3 L297.4,179.5 L298.7,178.7 L299.9,177.8 L301.2,177.0 L302.5,176.1 L303.8,175.3 L305.1,174.5 L306.4,173.6 L307.7,172.8 L308.9,171.9 L310.2,171.1 L311.5,170.2 L312.8,169.4 L314.1,168.5 L315.4,167.7 L316.7,166.8 L317.9,166.0 L319.2,165.1 L320.5,164.3 L321.8,163.4 L323.1,162.6 L324.4,161.8 L325.7,160.9 L326.9,160.1 L328.2,159.2 L329.5,158.4 L330.8,157.6 L332.1,156.7 L333.4,155.9 L334.6,155.1 L335.9,154.3 L337.2,153.5 L338.5,152.6 L339.8,151.8 L341.1,151.0 L342.4,150.2 L343.6,149.4 L344.9,148.6 L346.2,147.8 L347.5,147.1 L348.8,146.3 L350.1,145.5 L351.4,144.7 L352.6,144.0 L353.9,143.2 L355.2,142.5 L356.5,141.7 L357.8,141.0 L359.1,140.3 L360.4,139.5 L361.6,138.8 L362.9,138.1 L364.2,137.4 L365.5,136.7 L366.8,136.1 L368.1,135.4 L369.4,134.7 L370.6,134.1 L371.9,133.4 L373.2,132.8 L374.5,132.2 L375.8,131.5 L377.1,130.9 L378.3,130.3 L379.6,129.7 L380.9,129.2 L382.2,128.6 L383.5,128.1 L384.8,127.5 L386.1,127.0 L387.3,126.5 L388.6,126.0 L389.9,125.5 L391.2,125.0 L392.5,124.6 L393.8,124.1 L395.1,123.7 L396.3,123.3 L397.6,123.2 L398.9,123.1 L400.2,123.0" fill="none" stroke="#0000ff" stroke-width="1.5" stroke-dasharray="1.2,2.4"/>
<path d="M67.3,306.1 L68.6,305.8 L69.9,305.5 L71.2,305.3 L72.4,305.0 L73.7,304.7 L75.0,304.4 L76.3,304.1 L77.6,303.8 L78.9,303.5 L80.2,303.2 L81.4,302.9 L82.7,302.6 L84.0,302.3 L85.3,301.9 L86.6,301.6 L87.9,301.3 L89.2,301.0 L90.4,300.6 L91.7,300.3 L93.0,299.9 L94.3,299.6 L95.6,299.3 L96.9,298.9 L98.1,298.5 L99.4,298.2 L100.7,297.8 L102.0,297.4 L103.3,297.1 L104.6,296.7 L105.9,296.3 L107.1,295.9 L108.4,295.5 L109.7,295.1 L111.0,294.7 L112.3,294.3 L113.6,293.9 L114.9,293.4 L116.1,293.0 L117.4,292.6 L118.7,292.1 L120.0,291.7 L121.3,291.3 L122.6,290.9 L123.9,290.6 L125.1,290.3 L126.4,290.0 L127.7,289.6 L129.0,289.3 L130.3,289.0 L131.6,288.6 L132.9,288.3 L134.1,288.0 L135.4,287.6 L136.7,287.2 L138.0,286.7 L139.3,286.3 L140.6,285.8 L141.8,285.4 L143.1,284.9 L144.4,284.4 L145.7,284.0 L147.0,283.5 L148.3,283.0 L149.6,282.5 L150.8,281.9 L152.1,281.3 L153.4,280.7 L154.7,280.1 L156.0,279.4 L157.3,278.8 L158.6,278.1 L159.8,277.4 L161.1,276.8 L162.4,276.1 L163.7,275.4 L165.0,274.7 L166.3,274.0 L167.6,273.3 L168.8,272.6 L170.1,271.8 L171.4,271.1 L172.7,270.4 L174.0,269.6 L175.3,268.8 L176.6,268.1 L177.8,267.3 L179.1,266.5 L180.4,265.7 L181.7,264.9 L183.0,264.1 L184.3,263.3 L185.6,262.5 L186.8,261.6 L188.1,260.8 L189.4,259.9 L190.7,259.1 L192.0,258.2 L193.3,257.3 L194.5,256.5 L195.8,255.6 L197.1,254.7 L198.4,253.8 L199.7,252.8 L201.0,251.9 L202.3,251.0 L203.5,250.1 L204.8,249.1 L206.1,248.2 L207.4,247.3 L208.7,246.3 L210.0,245.3 L211.3,244.4 L212.5,243.4 L213.8,242.4 L215.1,241.4 L216.4,240.4 L217.7,239.4 L219.0,238.4 L220.3,237.4 L221.5,236.4 L222.8,235.4 L224.1,234.4 L225.4,233.3 L226.7,232.3 L228.0,231.3 L229.3,230.3 L230.5,229.2 L231.8,228.2 L233.1,227.2 L234.4,226.2 L235.7,225.1 L237.0,224.1 L238.2,223.1 L239.5,222.1 L240.8,221.1 L242.1,220.0 L243.4,219.0 L244.7,218.0 L246.0,217.0 L247.2,216.0 L248.5,215.0 L249.8,214.0 L251.1,213.0 L252.4,212.0 L253.7,211.0 L255.0,210.1 L256.2,209.1 L257.5,208.1 L258.8,207.1 L260.1,206.1 L261.4,205.1 L262.7,204.1 L264.0,203.0 L265.2,202.0 L266.5,201.0 L267.8,199.9 L269.1,198.9 L270.4,197.8 L271.7,196.8 L273.0,195.7 L274.2,194.6 L275.5,193.5 L276.8,192.4 L278.1,191.3 L279.4,190.2 L280.7,189.1 L281.9,187.9 L283.2,186.8 L284.5,185.6 L285.8,184.5 L287.1,183.3 L288.4,182.1 L289.7,181.0 L290.9,179.8 L292.2,178.6 L293.5,177.4 L294.8,176.2 L296.1,175.1 L297.4,173.9 L298.7,172.7 L299.9,171.5 L301.2,170.4 L302.5,169.2 L303.8,168.0 L305.1,166.9 L306.4,165.7 L307.7,164.6 L308.9,163.5 L310.2,162.3 L311.5,161.2 L312.8,160.1 L314.1,159.0 L315.4,158.0 L316.7,156.9 L317.9,155.9 L319.2,154.8 L320.5,153.8 L321.8,152.8 L323.1,151.8 L324.4,150.9 L325.7,149.9 L326.9,149.0 L328.2,148.0 L329.5,147.1 L330.8,146.3 L332.1,145.5 L333.4,144.7 L334.6,143.9 L335.9,143.2 L337.2,142.4 L338.5,141.7 L339.8,141.0 L341.1,140.3 L342.4,139.6 L343.6,139.0 L344.9,138.3 L346.2,137.7 L347.5,137.0 L348.8,136.4 L350.1,135.8 L351.4,135.3 L352.6,134.7 L353.9,134.1 L355.2,133.6 L356.5,132.8 L357.8,132.1 L359.1,131.3 L360.4,130.6 L361.6,129.9 L362.9,129.2 L364.2,128.5 L365.5,127.8 L366.8,127.2 L368.1,126.5 L369.4,125.9 L370.6,125.2 L371.9,124.6 L373.2,124.0 L374.5,123.4 L375.8,122.7 L377.1,122.2 L378.3,121.6 L379.6,121.0 L380.9,120.4 L382.2,119.8 L383.5,119.3 L384.8,118.7 L386.1,118.1 L387.3,117.6 L388.6,117.1 L389.9,116.5 L391.2,116.0 L392.5,115.4 L393.8,114.9 L395.1,114.4 L396.3,113.8 L397.6,113.3 L398.9,112.8 L400.2,112.3" fill="none" stroke="#0000ff" stroke-width="1.5" stroke-dasharray="6.5,3.9"/>
<path d="M67.3,304.9 L68.6,304.6 L69.9,304.3 L71.2,304.0 L72.4,303.7 L73.7,303.4 L75.0,303.1 L76.3,302.8 L77.6,302.5 L78.9,302.2 L80.2,301.9 L81.4,301.6 L82.7,301.3 L84.0,301.0 L85.3,300.6 L86.6,300.3 L87.9,300.0 L89.2,299.7 L90.4,299.3 L91.7,299.0 L93.0,298.6 L94.3,298.3 L95.6,297.9 L96.9,297.6 L98.1,297.2 L99.4,296.9 L100.7,296.5 L102.0,296.1 L103.3,295.7 L104.6,295.4 L105.9,295.0 L107.1,294.6 L108.4,294.2 L109.7,293.8 L111.0,293.4 L112.3,293.0 L113.6,292.5 L114.9,292.1 L116.1,291.7 L117.4,291.2 L118.7,290.8 L120.0,290.4 L121.3,289.9 L122.6,289.5 L123.9,289.2 L125.1,288.9 L126.4,288.6 L127.7,288.3 L129.0,288.0 L130.3,287.6 L131.6,287.3 L132.9,286.9 L134.1,286.6 L135.4,286.2 L136.7,285.8 L138.0,285.3 L139.3,284.9 L140.6,284.5 L141.8,284.0 L143.1,283.5 L144.4,283.1 L145.7,282.6 L147.0,282.1 L148.3,281.6 L149.6,281.1 L150.8,280.5 L152.1,279.9 L153.4,279.3 L154.7,278.7 L156.0,278.0 L157.3,277.4 L158.6,276.7 L159.8,276.0 L161.1,275.4 L162.4,274.7 L163.7,274.0 L165.0,273.3 L166.3,272.6 L167.6,271.9 L168.8,271.1 L170.1,270.4 L171.4,269.7 L172.7,268.9 L174.0,268.2 L175.3,267.4 L176.6,266.6 L177.8,265.8 L179.1,265.1 L180.4,264.3 L181.7,263.5 L183.0,262.6 L184.3,261.8 L185.6,261.0 L186.8,260.2 L188.1,259.3 L189.4,258.5 L190.7,257.6 L192.0,256.7 L193.3,255.9 L194.5,255.0 L195.8,254.1 L197.1,253.2 L198.4,252.3 L199.7,251.4 L201.0,250.5 L202.3,249.5 L203.5,248.6 L204.8,247.7 L206.1,246.7 L207.4,245.8 L208.7,244.8 L210.0,243.9 L211.3,242.9 L212.5,241.9 L213.8,240.9 L215.1,239.9 L216.4,239.0 L217.7,238.0 L219.0,237.0 L220.3,235.9 L221.5,234.9 L222.8,233.9 L224.1,232.9 L225.4,231.9 L226.7,230.9 L228.0,229.8 L229.3,228.8 L230.5,227.8 L231.8,226.8 L233.1,225.7 L234.4,224.7 L235.7,223.7 L237.0,222.6 L238.2,221.6 L239.5,220.6 L240.8,219.6 L242.1,218.5 L243.4,217.5 L244.7,216.5 L246.0,215.5 L247.2,214.5 L248.5,213.4 L249.8,212.4 L251.1,211.4 L252.4,210.4 L253.7,209.4 L255.0,208.4 L256.2,207.4 L257.5,206.4 L258.8,205.4 L260.1,204.3 L261.4,203.3 L262.7,202.3 L264.0,201.3 L265.2,200.2 L266.5,199.2 L267.8,198.1 L269.1,197.1 L270.4,196.0 L271.7,194.9 L273.0,193.8 L274.2,192.7 L275.5,191.6 L276.8,190.5 L278.1,189.4 L279.4,188.3 L280.7,187.1 L281.9,186.0 L283.2,184.8 L284.5,183.7 L285.8,182.5 L287.1,181.3 L288.4,180.2 L289.7,179.0 L290.9,177.8 L292.2,176.6 L293.5,175.5 L294.8,174.3 L296.1,173.1 L297.4,171.9 L298.7,170.7 L299.9,169.6 L301.2,168.4 L302.5,167.2 L303.8,166.1 L305.1,164.9 L306.4,163.8 L307.7,162.6 L308.9,161.5 L310.2,160.4 L311.5,159.3 L312.8,158.2 L314.1,157.1 L315.4,156.1 L316.7,155.0 L317.9,154.0 L319.2,152.9 L320.5,151.9 L321.8,150.9 L323.1,150.0 L324.4,149.0 L325.7,148.0 L326.9,147.1 L328.2,146.2 L329.5,145.3 L330.8,144.4 L332.1,143.6 L333.4,142.8 L334.6,142.1 L335.9,141.3 L337.2,140.6 L338.5,139.9 L339.8,139.1 L341.1,138.4 L342.4,137.8 L343.6,137.1 L344.9,136.4 L346.2,135.8 L347.5,135.2 L348.8,134.5 L350.1,133.9 L351.4,133.3 L352.6,132.8 L353.9,132.2 L355.2,131.6 L356.5,130.8 L357.8,130.1 L359.1,129.3 L360.4,128.6 L361.6,127.9 L362.9,127.2 L364.2,126.4 L365.5,125.7 L366.8,125.1 L368.1,124.4 L369.4,123.7 L370.6,123.0 L371.9,122.4 L373.2,121.7 L374.5,121.1 L375.8,120.4 L377.1,119.8 L378.3,119.2 L379.6,118.6 L380.9,117.9 L382.2,117.3 L383.5,116.7 L384.8,116.1 L386.1,115.5 L387.3,114.9 L388.6,114.3 L389.9,113.7 L391.2,113.1 L392.5,112.6 L393.8,112.0 L395.1,111.4 L396.3,110.8 L397.6,110.2 L398.9,109.6 L400.2,109.0" fill="none" stroke="#0000ff" stroke-width="1.5" stroke-dasharray="6.8,1.9,1.2,1.9"/>
<path d="M67.3,318.3 L68.6,318.2 L69.9,318.1 L71.2,318.0 L72.4,317.9 L73.7,317.7 L75.0,317.6 L76.3,317.4 L77.6,317.3 L78.9,317.1 L80.2,316.9 L81.4,316.8 L82.7,316.6 L84.0,316.4 L85.3,316.2 L86.6,316.0 L87.9,315.9 L89.2,315.7 L90.4,315.5 L91.7,315.3 L93.0,315.0 L94.3,314.7 L95.6,314.4 L96.9,314.1 L98.1,313.8 L99.4,313.5 L100.7,313.2 L102.0,312.9 L103.3,312.6 L104.6,312.3 L105.9,312.0 L107.1,311.7 L108.4,311.4 L109.7,311.1 L111.0,310.8 L112.3,310.5 L113.6,310.2 L114.9,309.9 L116.1,309.6 L117.4,309.2 L118.7,308.8 L120.0,308.4 L121.3,308.1 L122.6,307.7 L123.9,307.3 L125.1,306.9 L126.4,306.6 L127.7,306.2 L129.0,305.8 L130.3,305.4 L131.6,305.0 L132.9,304.7 L134.1,304.3 L135.4,303.9 L136.7,303.5 L138.0,303.1 L139.3,302.7 L140.6,302.3 L141.8,301.9 L143.1,301.5 L144.4,301.1 L145.7,300.7 L147.0,300.3 L148.3,299.6 L149.6,298.8 L150.8,298.1 L152.1,297.3 L153.4,296.5 L154.7,295.8 L156.0,295.2 L157.3,294.8 L158.6,294.3 L159.8,293.8 L161.1,293.4 L162.4,292.9 L163.7,292.4 L165.0,291.9 L166.3,291.5 L167.6,291.0 L168.8,290.5 L170.1,290.0 L171.4,289.5 L172.7,289.0 L174.0,288.5 L175.3,288.0 L176.6,287.5 L177.8,287.0 L179.1,286.4 L180.4,285.9 L181.7,285.4 L183.0,284.9 L184.3,284.4 L185.6,283.8 L186.8,283.2 L188.1,282.5 L189.4,281.9 L190.7,281.3 L192.0,280.6 L193.3,280.0 L194.5,279.4 L195.8,278.8 L197.1,278.1 L198.4,277.5 L199.7,276.9 L201.0,276.3 L202.3,275.7 L203.5,275.2 L204.8,274.6 L206.1,273.9 L207.4,273.2 L208.7,272.6 L210.0,272.0 L211.3,271.4 L212.5,270.8 L213.8,270.2 L215.1,269.6 L216.4,269.1 L217.7,268.5 L219.0,268.0 L220.3,267.4 L221.5,266.9 L222.8,266.3 L224.1,265.7 L225.4,265.1 L226.7,264.5 L228.0,263.8 L229.3,263.1 L230.5,262.4 L231.8,261.6 L233.1,260.9 L234.4,260.1 L235.7,259.3 L237.0,258.4 L238.2,257.5 L239.5,256.7 L240.8,255.8 L242.1,254.8 L243.4,253.9 L244.7,252.9 L246.0,252.0 L247.2,251.0 L248.5,250.0 L249.8,249.0 L251.1,248.0 L252.4,246.9 L253.7,245.9 L255.0,244.8 L256.2,243.8 L257.5,242.7 L258.8,241.6 L260.1,240.5 L261.4,239.4 L262.7,238.3 L264.0,237.2 L265.2,236.1 L266.5,235.0 L267.8,233.8 L269.1,232.7 L270.4,231.6 L271.7,230.4 L273.0,229.3 L274.2,228.1 L275.5,226.9 L276.8,225.8 L278.1,224.6 L279.4,223.4 L280.7,222.2 L281.9,221.1 L283.2,219.9 L284.5,218.7 L285.8,217.5 L287.1,216.3 L288.4,215.1 L289.7,213.9 L290.9,212.8 L292.2,211.6 L293.5,210.3 L294.8,209.1 L296.1,207.9 L297.4,206.7 L298.7,205.5 L299.9,204.2 L301.2,203.0 L302.5,201.8 L303.8,200.5 L305.1,199.3 L306.4,198.1 L307.7,196.9 L308.9,195.7 L310.2,194.4 L311.5,193.2 L312.8,192.1 L314.1,190.9 L315.4,189.7 L316.7,188.6 L317.9,187.4 L319.2,186.3 L320.5,185.2 L321.8,184.1 L323.1,183.0 L324.4,181.9 L325.7,180.9 L326.9,179.8 L328.2,178.8 L329.5,177.7 L330.8,176.7 L332.1,175.7 L333.4,174.8 L334.6,173.8 L335.9,172.8 L337.2,171.9 L338.5,170.9 L339.8,170.0 L341.1,169.1 L342.4,168.2 L343.6,167.3 L344.9,166.5 L346.2,165.6 L347.5,164.7 L348.8,163.9 L350.1,163.1 L351.4,162.2 L352.6,161.4 L353.9,160.6 L355.2,159.8 L356.5,159.1 L357.8,158.3 L359.1,157.5 L360.4,156.8 L361.6,156.0 L362.9,155.3 L364.2,154.5 L365.5,153.8 L366.8,153.1 L368.1,152.4 L369.4,151.7 L370.6,151.0 L371.9,150.3 L373.2,149.7 L374.5,149.0 L375.8,148.3 L377.1,147.7 L378.3,147.0 L379.6,146.4 L380.9,145.7 L382.2,145.1 L383.5,144.5 L384.8,143.8 L386.1,143.2 L387.3,142.6 L388.6,142.0 L389.9,141.4 L391.2,140.8 L392.5,140.2 L393.8,139.6 L395.1,139.0 L396.3,138.4 L397.6,137.8 L398.9,137.2 L400.2,136.7" fill="none" stroke="#ff0000" stroke-width="1.5" stroke-dasharray="1.2,2.4"/>
<path d="M67.3,320.4 L68.6,320.3 L69.9,320.2 L71.2,320.1 L72.4,319.9 L73.7,319.8 L75.0,319.7 L76.3,319.6 L77.6,319.4 L78.9,319.3 L80.2,319.1 L81.4,319.0 L82.7,318.8 L84.0,318.7 L85.3,318.5 L86.6,318.4 L87.9,318.2 L89.2,318.1 L90.4,317.9 L91.7,317.7 L93.0,317.5 L94.3,317.2 L95.6,317.0 L96.9,316.7 L98.1,316.5 L99.4,316.2 L100.7,315.9 L102.0,315.7 L103.3,315.4 L104.6,315.2 L105.9,314.9 L107.1,314.6 L108.4,314.4 L109.7,314.1 L111.0,313.8 L112.3,313.6 L113.6,313.3 L114.9,313.0 L116.1,312.7 L117.4,312.3 L118.7,312.0 L120.0,311.6 L121.3,311.3 L122.6,310.9 L123.9,310.6 L125.1,310.2 L126.4,309.8 L127.7,309.5 L129.0,309.1 L130.3,308.7 L131.6,308.4 L132.9,308.0 L134.1,307.6 L135.4,307.2 L136.7,306.9 L138.0,306.5 L139.3,306.1 L140.6,305.7 L141.8,305.3 L143.1,304.9 L144.4,304.5 L145.7,304.1 L147.0,303.7 L148.3,303.0 L149.6,302.3 L150.8,301.5 L152.1,300.8 L153.4,300.0 L154.7,299.2 L156.0,298.7 L157.3,298.3 L158.6,297.8 L159.8,297.4 L161.1,296.9 L162.4,296.5 L163.7,296.0 L165.0,295.5 L166.3,295.1 L167.6,294.6 L168.8,294.1 L170.1,293.6 L171.4,293.1 L172.7,292.7 L174.0,292.2 L175.3,291.7 L176.6,291.2 L177.8,290.7 L179.1,290.2 L180.4,289.7 L181.7,289.2 L183.0,288.7 L184.3,288.2 L185.6,287.7 L186.8,287.2 L188.1,286.7 L189.4,286.2 L190.7,285.7 L192.0,285.2 L193.3,284.7 L194.5,284.2 L195.8,283.7 L197.1,283.2 L198.4,282.7 L199.7,282.2 L201.0,281.7 L202.3,281.2 L203.5,280.7 L204.8,280.2 L206.1,279.5 L207.4,278.8 L208.7,278.1 L210.0,277.3 L211.3,276.6 L212.5,275.8 L213.8,275.1 L215.1,274.3 L216.4,273.6 L217.7,272.8 L219.0,272.0 L220.3,271.2 L221.5,270.4 L222.8,269.5 L224.1,268.7 L225.4,267.9 L226.7,267.3 L228.0,266.6 L229.3,266.0 L230.5,265.3 L231.8,264.6 L233.1,263.9 L234.4,263.1 L235.7,262.4 L237.0,261.6 L238.2,260.8 L239.5,259.9 L240.8,259.1 L242.1,258.2 L243.4,257.3 L244.7,256.4 L246.0,255.5 L247.2,254.6 L248.5,253.6 L249.8,252.7 L251.1,251.7 L252.4,250.7 L253.7,249.7 L255.0,248.7 L256.2,247.7 L257.5,246.6 L258.8,245.6 L260.1,244.5 L261.4,243.4 L262.7,242.4 L264.0,241.3 L265.2,240.2 L266.5,239.1 L267.8,238.0 L269.1,236.9 L270.4,235.8 L271.7,234.7 L273.0,233.5 L274.2,232.4 L275.5,231.3 L276.8,230.1 L278.1,229.0 L279.4,227.9 L280.7,226.7 L281.9,225.6 L283.2,224.4 L284.5,223.4 L285.8,222.4 L287.1,221.4 L288.4,220.3 L289.7,219.3 L290.9,218.3 L292.2,217.2 L293.5,216.2 L294.8,215.1 L296.1,214.0 L297.4,212.9 L298.7,211.7 L299.9,210.6 L301.2,209.5 L302.5,208.3 L303.8,207.2 L305.1,206.1 L306.4,205.0 L307.7,203.9 L308.9,202.7 L310.2,201.7 L311.5,200.6 L312.8,199.5 L314.1,198.4 L315.4,197.3 L316.7,196.2 L317.9,195.1 L319.2,194.0 L320.5,192.9 L321.8,191.8 L323.1,190.7 L324.4,189.6 L325.7,188.6 L326.9,187.5 L328.2,186.5 L329.5,185.5 L330.8,184.5 L332.1,183.5 L333.4,182.6 L334.6,181.6 L335.9,180.6 L337.2,179.7 L338.5,178.8 L339.8,177.9 L341.1,177.0 L342.4,176.1 L343.6,175.3 L344.9,174.4 L346.2,173.6 L347.5,172.7 L348.8,171.9 L350.1,171.1 L351.4,170.3 L352.6,169.5 L353.9,168.8 L355.2,168.0 L356.5,167.3 L357.8,166.5 L359.1,165.8 L360.4,165.1 L361.6,164.3 L362.9,163.6 L364.2,162.9 L365.5,162.2 L366.8,161.5 L368.1,160.8 L369.4,160.1 L370.6,159.4 L371.9,158.7 L373.2,158.1 L374.5,157.4 L375.8,156.7 L377.1,156.1 L378.3,155.5 L379.6,154.8 L380.9,154.2 L382.2,153.6 L383.5,153.0 L384.8,152.3 L386.1,151.7 L387.3,151.1 L388.6,150.5 L389.9,150.0 L391.2,149.4 L392.5,148.8 L393.8,148.2 L395.1,147.7 L396.3,147.1 L397.6,146.5 L398.9,146.0 L400.2,145.5" fill="none" stroke="#ff0000" stroke-width="1.5" stroke-dasharray="6.5,3.9"/>
<path d="M67.3,320.1 L68.6,320.0 L69.9,319.9 L71.2,319.8 L72.4,319.6 L73.7,319.5 L75.0,319.4 L76.3,319.2 L77.6,319.1 L78.9,318.9 L80.2,318.8 L81.4,318.7 L82.7,318.5 L84.0,318.3 L85.3,318.2 L86.6,318.0 L87.9,317.9 L89.2,317.7 L90.4,317.6 L91.7,317.4 L93.0,317.1 L94.3,316.9 L95.6,316.6 L96.9,316.3 L98.1,316.1 L99.4,315.8 L100.7,315.5 L102.0,315.3 L103.3,315.0 L104.6,314.7 L105.9,314.5 L107.1,314.2 L108.4,313.9 L109.7,313.7 L111.0,313.4 L112.3,313.1 L113.6,312.8 L114.9,312.5 L116.1,312.2 L117.4,311.9 L118.7,311.5 L120.0,311.2 L121.3,310.8 L122.6,310.4 L123.9,310.1 L125.1,309.7 L126.4,309.4 L127.7,309.0 L129.0,308.6 L130.3,308.2 L131.6,307.9 L132.9,307.5 L134.1,307.1 L135.4,306.7 L136.7,306.4 L138.0,306.0 L139.3,305.6 L140.6,305.2 L141.8,304.8 L143.1,304.4 L144.4,304.0 L145.7,303.6 L147.0,303.2 L148.3,302.5 L149.6,301.7 L150.8,301.0 L152.1,300.2 L153.4,299.5 L154.7,298.7 L156.0,298.2 L157.3,297.8 L158.6,297.3 L159.8,296.8 L161.1,296.4 L162.4,295.9 L163.7,295.5 L165.0,295.0 L166.3,294.5 L167.6,294.0 L168.8,293.6 L170.1,293.1 L171.4,292.6 L172.7,292.1 L174.0,291.6 L175.3,291.1 L176.6,290.6 L177.8,290.1 L179.1,289.6 L180.4,289.1 L181.7,288.6 L183.0,288.1 L184.3,287.6 L185.6,287.1 L186.8,286.6 L188.1,286.1 L189.4,285.6 L190.7,285.1 L192.0,284.6 L193.3,284.1 L194.5,283.6 L195.8,283.1 L197.1,282.6 L198.4,282.1 L199.7,281.6 L201.0,281.1 L202.3,280.7 L203.5,280.2 L204.8,279.7 L206.1,279.0 L207.4,278.2 L208.7,277.5 L210.0,276.8 L211.3,276.0 L212.5,275.3 L213.8,274.5 L215.1,273.8 L216.4,273.0 L217.7,272.2 L219.0,271.4 L220.3,270.6 L221.5,269.8 L222.8,269.0 L224.1,268.1 L225.4,267.3 L226.7,266.7 L228.0,266.1 L229.3,265.4 L230.5,264.7 L231.8,264.0 L233.1,263.3 L234.4,262.6 L235.7,261.8 L237.0,261.0 L238.2,260.2 L239.5,259.3 L240.8,258.5 L242.1,257.6 L243.4,256.7 L244.7,255.8 L246.0,254.9 L247.2,254.0 L248.5,253.0 L249.8,252.0 L251.1,251.1 L252.4,250.1 L253.7,249.1 L255.0,248.1 L256.2,247.0 L257.5,246.0 L258.8,244.9 L260.1,243.9 L261.4,242.8 L262.7,241.7 L264.0,240.7 L265.2,239.6 L266.5,238.5 L267.8,237.4 L269.1,236.3 L270.4,235.1 L271.7,234.0 L273.0,232.9 L274.2,231.8 L275.5,230.6 L276.8,229.5 L278.1,228.4 L279.4,227.2 L280.7,226.1 L281.9,224.9 L283.2,223.8 L284.5,222.8 L285.8,221.8 L287.1,220.7 L288.4,219.7 L289.7,218.7 L290.9,217.6 L292.2,216.6 L293.5,215.5 L294.8,214.5 L296.1,213.4 L297.4,212.2 L298.7,211.1 L299.9,210.0 L301.2,208.8 L302.5,207.7 L303.8,206.6 L305.1,205.4 L306.4,204.3 L307.7,203.2 L308.9,202.1 L310.2,201.0 L311.5,199.9 L312.8,198.8 L314.1,197.7 L315.4,196.6 L316.7,195.5 L317.9,194.4 L319.2,193.3 L320.5,192.2 L321.8,191.1 L323.1,190.0 L324.4,188.9 L325.7,187.9 L326.9,186.8 L328.2,185.8 L329.5,184.8 L330.8,183.8 L332.1,182.8 L333.4,181.8 L334.6,180.8 L335.9,179.9 L337.2,179.0 L338.5,178.0 L339.8,177.1 L341.1,176.2 L342.4,175.3 L343.6,174.5 L344.9,173.6 L346.2,172.8 L347.5,171.9 L348.8,171.1 L350.1,170.3 L351.4,169.5 L352.6,168.7 L353.9,167.9 L355.2,167.2 L356.5,166.4 L357.8,165.7 L359.1,164.9 L360.4,164.2 L361.6,163.5 L362.9,162.7 L364.2,162.0 L365.5,161.3 L366.8,160.6 L368.1,159.9 L369.4,159.2 L370.6,158.5 L371.9,157.8 L373.2,157.1 L374.5,156.5 L375.8,155.8 L377.1,155.2 L378.3,154.5 L379.6,153.9 L380.9,153.2 L382.2,152.6 L383.5,152.0 L384.8,151.4 L386.1,150.7 L387.3,150.1 L388.6,149.5 L389.9,148.9 L391.2,148.4 L392.5,147.8 L393.8,147.2 L395.1,146.6 L396.3,146.0 L397.6,145.5 L398.9,144.9 L400.2,144.4" fill="none" stroke="#ff0000" stroke-width="1.5" stroke-dasharray="6.8,1.9,1.2,1.9"/>
<rect x="54.87" y="24.65" width="365.78" height="304.30" fill="none" stroke="#000" stroke-width="1.5" stroke-linejoin="round"/>
<path d="M75.72,328.95 v-6 M75.72,24.65 v6 M96.25,328.95 v-12.5 M96.25,24.65 v12.5 M116.78,328.95 v-6 M116.78,24.65 v6 M137.31,328.95 v-6 M137.31,24.65 v6 M157.84,328.95 v-6 M157.84,24.65 v6 M178.37,328.95 v-12.5 M178.37,24.65 v12.5 M198.90,328.95 v-6 M198.90,24.65 v6 M219.43,328.95 v-6 M219.43,24.65 v6 M239.96,328.95 v-6 M239.96,24.65 v6 M260.49,328.95 v-12.5 M260.49,24.65 v12.5 M281.02,328.95 v-6 M281.02,24.65 v6 M301.55,328.95 v-6 M301.55,24.65 v6 M322.08,328.95 v-6 M322.08,24.65 v6 M342.61,328.95 v-12.5 M342.61,24.65 v12.5 M363.14,328.95 v-6 M363.14,24.65 v6 M383.67,328.95 v-6 M383.67,24.65 v6 M404.20,328.95 v-6 M404.20,24.65 v6 M54.87,311.07 h6.3 M420.65,311.07 h-6.3 M54.87,291.89 h6.3 M420.65,291.89 h-6.3 M54.87,272.71 h6.3 M420.65,272.71 h-6.3 M54.87,253.53 h6.3 M420.65,253.53 h-6.3 M54.87,234.35 h13 M420.65,234.35 h-13 M54.87,215.17 h6.3 M420.65,215.17 h-6.3 M54.87,195.99 h6.3 M420.65,195.99 h-6.3 M54.87,176.81 h6.3 M420.65,176.81 h-6.3 M54.87,157.63 h6.3 M420.65,157.63 h-6.3 M54.87,138.45 h13 M420.65,138.45 h-13 M54.87,119.27 h6.3 M420.65,119.27 h-6.3 M54.87,100.09 h6.3 M420.65,100.09 h-6.3 M54.87,80.91 h6.3 M420.65,80.91 h-6.3 M54.87,61.73 h6.3 M420.65,61.73 h-6.3 M54.87,42.55 h13 M420.65,42.55 h-13" stroke="#000" stroke-width="1.2" fill="none"/>
<g font-family="Liberation Sans, sans-serif">
<text transform="translate(80.19,352.45) scale(1.082,1)" font-size="18.60" fill="#000" stroke="#fff" stroke-width="0.18">120</text>
<text transform="translate(162.31,352.45) scale(1.082,1)" font-size="18.60" fill="#000" stroke="#fff" stroke-width="0.18">140</text>
<text transform="translate(244.43,352.45) scale(1.082,1)" font-size="18.60" fill="#000" stroke="#fff" stroke-width="0.18">160</text>
<text transform="translate(326.55,352.45) scale(1.082,1)" font-size="18.60" fill="#000" stroke="#fff" stroke-width="0.18">180</text>
<text transform="translate(32.80,49.05) scale(1.075,1)" font-size="18.60" fill="#000" stroke="#fff" stroke-width="0.18">3</text>
<text transform="translate(32.35,144.95) scale(1.134,1)" font-size="18.60" fill="#000" stroke="#fff" stroke-width="0.18">2</text>
<text transform="translate(32.81,240.85) scale(0.779,1)" font-size="18.60" fill="#000" stroke="#fff" stroke-width="0.18">1</text>
<text transform="translate(202.79,383.50) scale(0.839,1)" font-size="18.60" fill="#000" stroke="#fff" stroke-width="0.18">T</text>
<text transform="translate(229.06,383.50) scale(0.969,1)" font-size="18.60" fill="#000" stroke="#fff" stroke-width="0.18">MeV</text>
<text transform="translate(221.92,382.94) scale(0.791,1.167)" font-size="18.6" fill="#000">(</text>
<text transform="translate(267.42,382.94) scale(0.872,1.167)" font-size="18.6" fill="#000">)</text>
<g transform="translate(14.6,0) rotate(-90)">
<text transform="translate(-184.81,0.00) scale(0.925,1)" font-size="19.00" fill="#000" stroke="#fff" stroke-width="0.18">P</text>
<text transform="translate(-172.92,5.90) scale(1.123,1)" font-size="11.20" fill="#000" font-weight="bold">r</text>
</g>
<text transform="translate(120.29,66.70) scale(1.176,1)" font-size="16.10" fill="#000">N</text>
<text transform="translate(132.81,72.00) scale(1.029,1)" font-size="12.20" fill="#000">t</text>
<text transform="translate(136.96,66.70) scale(1.290,1)" font-size="16.10" fill="#000">=6</text>
<text transform="translate(120.29,85.80) scale(1.176,1)" font-size="16.10" fill="#000">N</text>
<text transform="translate(132.81,91.10) scale(1.029,1)" font-size="12.20" fill="#000">t</text>
<text transform="translate(136.96,85.80) scale(1.290,1)" font-size="16.10" fill="#000">=8</text>
<text transform="translate(120.29,104.90) scale(1.176,1)" font-size="16.10" fill="#000">N</text>
<text transform="translate(132.81,110.20) scale(1.029,1)" font-size="12.20" fill="#000">t</text>
<text transform="translate(136.99,104.90) scale(1.258,1)" font-size="16.10" fill="#000">=10</text>
<text transform="translate(121.05,124.20) scale(1.172,1)" font-size="16.10" fill="#000">cont.</text>
<text transform="translate(281.34,263.60) scale(1.163,1)" font-size="16.40" fill="#006400">eB=0.75</text>
<text transform="translate(362.03,263.60) scale(0.934,1)" font-size="16.40" fill="#006400">GeV</text>
<text transform="translate(392.83,258.50) scale(0.949,1)" font-size="11.20" fill="#006400" font-weight="bold">2</text>
<text transform="translate(281.34,282.50) scale(1.163,1)" font-size="16.40" fill="#0000ff">eB=0.45</text>
<text transform="translate(362.03,282.50) scale(0.934,1)" font-size="16.40" fill="#0000ff">GeV</text>
<text transform="translate(392.83,277.40) scale(0.949,1)" font-size="11.20" fill="#0000ff" font-weight="bold">2</text>
<text transform="translate(281.34,301.40) scale(1.161,1)" font-size="16.40" fill="#ff0000">eB=0</text>
</g>
<path d="M83.9,62.1 H108.9" stroke="#000" stroke-width="1.4" stroke-dasharray="1.1,2.35"/>
<path d="M83.7,81.2 H108.7" stroke="#000" stroke-width="1.4" stroke-dasharray="6.4,3.9"/>
<path d="M83.7,100.2 H108.9" stroke="#000" stroke-width="1.4" stroke-dasharray="6.5,2,1,2" stroke-dashoffset="8.3"/>
<clipPath id="ck"><rect x="83.7" y="114.9" width="25.2" height="8.7"/></clipPath>
<path clip-path="url(#ck)" d="M62.00,109.9 L82.00,129.9 M67.20,109.9 L87.20,129.9 M72.40,109.9 L92.40,129.9 M77.60,109.9 L97.60,129.9 M82.80,109.9 L102.80,129.9 M88.00,109.9 L108.00,129.9 M93.20,109.9 L113.20,129.9 M98.40,109.9 L118.40,129.9 M103.60,109.9 L123.60,129.9 M108.80,109.9 L128.80,129.9 M114.00,109.9 L134.00,129.9" stroke="#000" stroke-width="1.0" fill="none"/>
<path d="M83.7,114.9 H108.9 M83.7,123.6 H108.9" stroke="#000" stroke-width="1.3"/>
</svg>
</body></html>
